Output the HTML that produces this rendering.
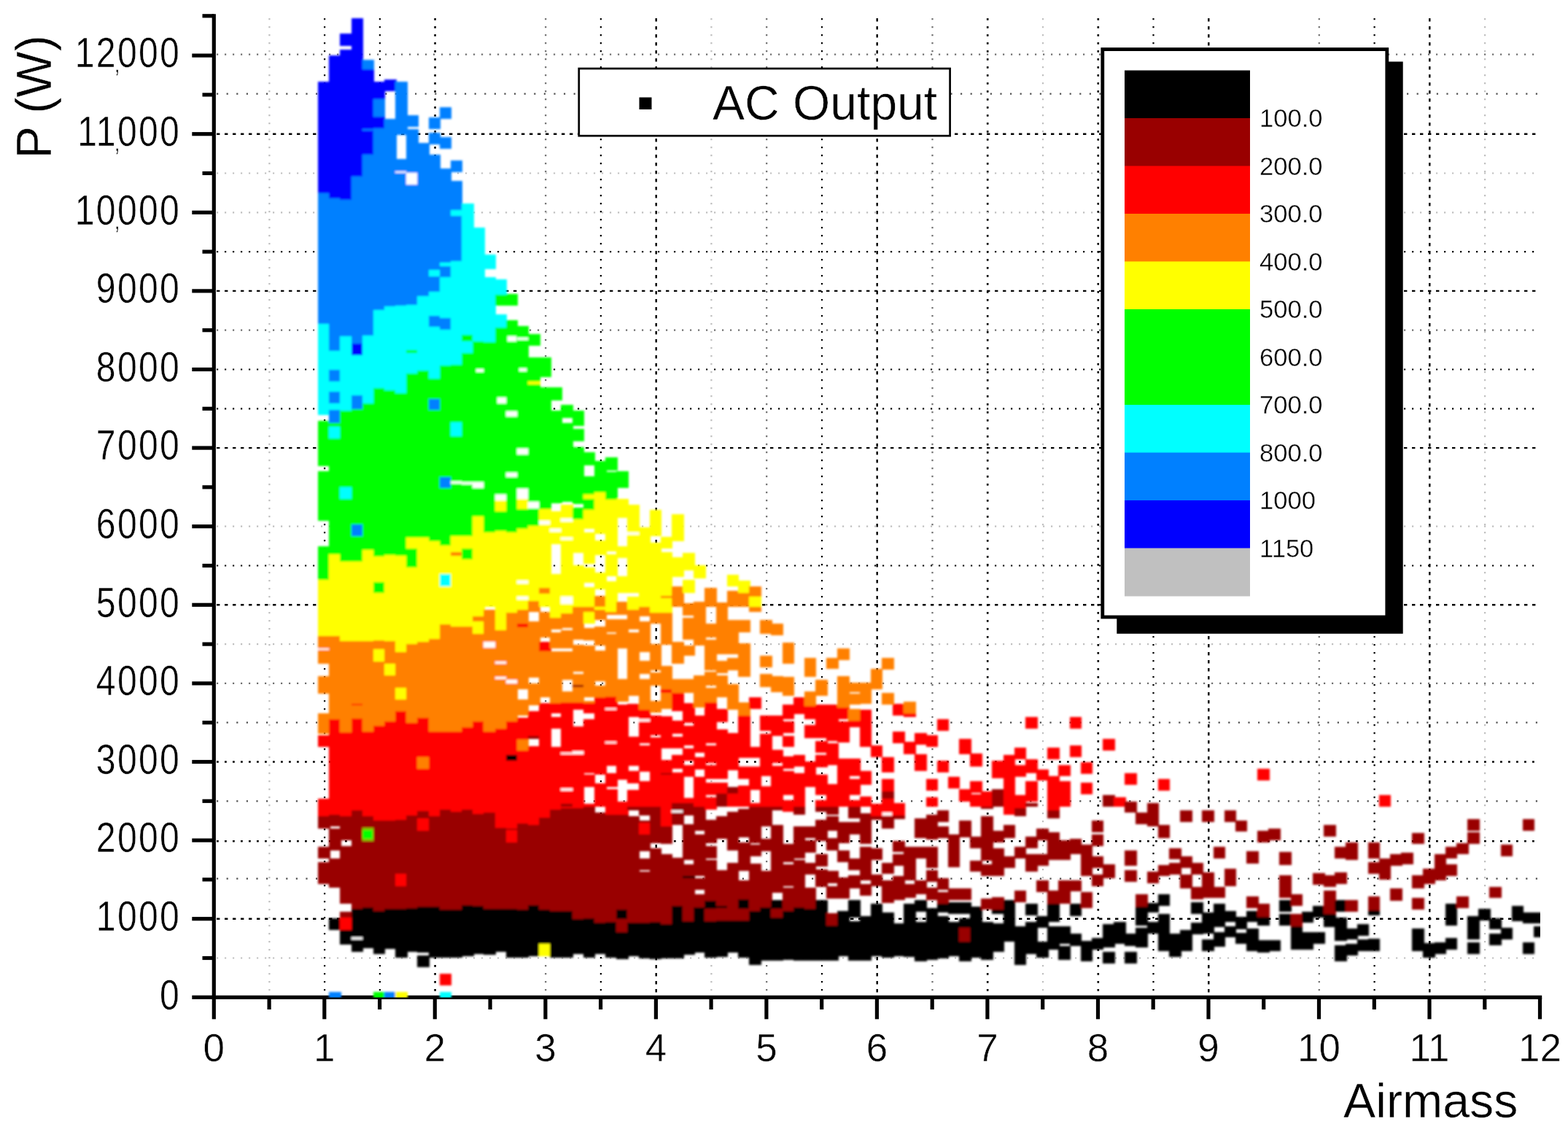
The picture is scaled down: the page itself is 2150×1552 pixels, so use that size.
<!DOCTYPE html>
<html lang="en"><head><meta charset="utf-8"><title>AC Output vs Airmass</title>
<style>html,body{margin:0;padding:0;background:#fff;}body{width:2150px;height:1552px;overflow:hidden;}svg{display:block;}text{font-family:"Liberation Sans", Arial, Helvetica, sans-serif;fill:#000;stroke:#fff;stroke-width:.5px;}#colourscale text{stroke-width:.4px;}</style></head><body>
<svg width="2150" height="1552" viewBox="0 0 2150 1552">
<rect width="2150" height="1552" fill="#fff"/>
<defs><clipPath id="clip"><rect x="293.3" y="0" width="1818.6" height="1367.4"/></clipPath><filter id="soft" filterUnits="userSpaceOnUse" x="280" y="0" width="1850" height="1400"><feGaussianBlur stdDeviation="1.5"/></filter></defs>
<g id="grid" fill="none">
<path d="M369.4 25V1365" stroke="#c0c0c0" stroke-dasharray="2.2 8.8" stroke-width="2.2"/>
<path d="M445.1 25V1365" stroke="#000" stroke-dasharray="2.2 8.8" stroke-width="2.2"/>
<path d="M520.9 25V1365" stroke="#000" stroke-dasharray="2.2 8.8" stroke-width="2.2"/>
<path d="M596.6 25V1365" stroke="#000" stroke-dasharray="2.8 8.2" stroke-width="2.6"/>
<path d="M748.2 25V1365" stroke="#707070" stroke-dasharray="2.2 8.8" stroke-width="2.2"/>
<path d="M823.9 25V1365" stroke="#000" stroke-dasharray="2.2 8.8" stroke-width="2.2"/>
<path d="M899.7 25V1365" stroke="#000" stroke-dasharray="4.4 6.6" stroke-width="2.4"/>
<path d="M975.4 25V1365" stroke="#c0c0c0" stroke-dasharray="2.2 8.8" stroke-width="2.2"/>
<path d="M1051.2 25V1365" stroke="#707070" stroke-dasharray="2.2 8.8" stroke-width="2.2"/>
<path d="M1127.0 25V1365" stroke="#000" stroke-dasharray="2.2 8.8" stroke-width="2.2"/>
<path d="M1202.7 25V1365" stroke="#000" stroke-dasharray="4.4 6.6" stroke-width="2.4"/>
<path d="M1278.5 25V1365" stroke="#707070" stroke-dasharray="2.2 8.8" stroke-width="2.2"/>
<path d="M1354.2 25V1365" stroke="#000" stroke-dasharray="2.8 8.2" stroke-width="2.6"/>
<path d="M1430.0 25V1365" stroke="#c0c0c0" stroke-dasharray="2.2 8.8" stroke-width="2.2"/>
<path d="M1505.8 25V1365" stroke="#000" stroke-dasharray="2.8 8.2" stroke-width="2.6"/>
<path d="M1581.5 25V1365" stroke="#000" stroke-dasharray="2.2 8.8" stroke-width="2.2"/>
<path d="M1657.3 25V1365" stroke="#000" stroke-dasharray="4.4 6.6" stroke-width="2.4"/>
<path d="M1808.8 25V1365" stroke="#707070" stroke-dasharray="2.2 8.8" stroke-width="2.2"/>
<path d="M1884.6 25V1365" stroke="#000" stroke-dasharray="2.2 8.8" stroke-width="2.2"/>
<path d="M1960.3 25V1365" stroke="#000" stroke-dasharray="4.4 6.6" stroke-width="2.4"/>
<path d="M2036.1 25V1365" stroke="#c0c0c0" stroke-dasharray="2.2 8.8" stroke-width="2.2"/>
<path d="M297 1313.5H2111" stroke="#c0c0c0" stroke-dasharray="2.2 8.8" stroke-width="2.2"/>
<path d="M297 1259.7H2111" stroke="#000" stroke-dasharray="4.4 6.6" stroke-width="2.4"/>
<path d="M297 1204.7H2111" stroke="#505050" stroke-dasharray="2.2 11.4" stroke-width="2.2"/>
<path d="M297 1153.3H2111" stroke="#000" stroke-dasharray="2.8 8.2" stroke-width="2.6"/>
<path d="M297 1098.3H2111" stroke="#505050" stroke-dasharray="2.2 11.4" stroke-width="2.2"/>
<path d="M297 1044.5H2111" stroke="#000" stroke-dasharray="2.8 8.2" stroke-width="2.6"/>
<path d="M297 990.7H2111" stroke="#505050" stroke-dasharray="2.2 11.4" stroke-width="2.2"/>
<path d="M297 936.9H2111" stroke="#707070" stroke-dasharray="2.2 8.8" stroke-width="2.2"/>
<path d="M297 883.1H2111" stroke="#c0c0c0" stroke-dasharray="2.2 8.8" stroke-width="2.2"/>
<path d="M297 829.3H2111" stroke="#000" stroke-dasharray="4.4 6.6" stroke-width="2.4"/>
<path d="M297 775.5H2111" stroke="#000" stroke-dasharray="2.2 8.8" stroke-width="2.2"/>
<path d="M297 721.7H2111" stroke="#c0c0c0" stroke-dasharray="2.2 8.8" stroke-width="2.2"/>
<path d="M297 614.1H2111" stroke="#000" stroke-dasharray="4.4 6.6" stroke-width="2.4"/>
<path d="M297 560.3H2111" stroke="#000" stroke-dasharray="2.2 8.8" stroke-width="2.2"/>
<path d="M297 506.5H2111" stroke="#000" stroke-dasharray="2.2 8.8" stroke-width="2.2"/>
<path d="M297 452.7H2111" stroke="#707070" stroke-dasharray="2.2 8.8" stroke-width="2.2"/>
<path d="M297 398.9H2111" stroke="#000" stroke-dasharray="4.4 6.6" stroke-width="2.4"/>
<path d="M297 345.1H2111" stroke="#000" stroke-dasharray="2.2 8.8" stroke-width="2.2"/>
<path d="M297 291.3H2111" stroke="#c0c0c0" stroke-dasharray="2.2 8.8" stroke-width="2.2"/>
<path d="M297 237.5H2111" stroke="#c0c0c0" stroke-dasharray="2.2 8.8" stroke-width="2.2"/>
<path d="M297 183.7H2111" stroke="#000" stroke-dasharray="4.4 6.6" stroke-width="2.4"/>
<path d="M297 128.7H2111" stroke="#505050" stroke-dasharray="2.2 11.4" stroke-width="2.2"/>
<path d="M297 74.7H2111" stroke="#707070" stroke-dasharray="2.2 8.8" stroke-width="2.2"/>
</g>
<g id="axes" stroke="#000" stroke-width="5.2" fill="none">
<path d="M293.3 19.2V1369.9"/>
<path d="M290.7 1367.3H2114.2"/>
<path d="M263.3 1367.3H293.3"/>
<path d="M277.5 1313.5H293.3"/>
<path d="M263.3 1259.7H293.3"/>
<path d="M277.5 1205.9H293.3"/>
<path d="M263.3 1152.1H293.3"/>
<path d="M277.5 1098.3H293.3"/>
<path d="M263.3 1044.5H293.3"/>
<path d="M277.5 990.7H293.3"/>
<path d="M263.3 936.9H293.3"/>
<path d="M277.5 883.1H293.3"/>
<path d="M263.3 829.3H293.3"/>
<path d="M277.5 775.5H293.3"/>
<path d="M263.3 721.7H293.3"/>
<path d="M277.5 667.9H293.3"/>
<path d="M263.3 614.1H293.3"/>
<path d="M277.5 560.3H293.3"/>
<path d="M263.3 506.5H293.3"/>
<path d="M277.5 452.7H293.3"/>
<path d="M263.3 398.9H293.3"/>
<path d="M277.5 345.1H293.3"/>
<path d="M263.3 291.3H293.3"/>
<path d="M277.5 237.5H293.3"/>
<path d="M263.3 183.7H293.3"/>
<path d="M277.5 129.9H293.3"/>
<path d="M263.3 76.1H293.3"/>
<path d="M277.5 21.8H293.3"/>
<path d="M293.3 1367.3V1397.3"/>
<path d="M369.1 1367.3V1384"/>
<path d="M444.8 1367.3V1397.3"/>
<path d="M520.6 1367.3V1384"/>
<path d="M596.3 1367.3V1397.3"/>
<path d="M672.1 1367.3V1384"/>
<path d="M747.9 1367.3V1397.3"/>
<path d="M823.6 1367.3V1384"/>
<path d="M899.4 1367.3V1397.3"/>
<path d="M975.1 1367.3V1384"/>
<path d="M1050.9 1367.3V1397.3"/>
<path d="M1126.7 1367.3V1384"/>
<path d="M1202.4 1367.3V1397.3"/>
<path d="M1278.2 1367.3V1384"/>
<path d="M1353.9 1367.3V1397.3"/>
<path d="M1429.7 1367.3V1384"/>
<path d="M1505.5 1367.3V1397.3"/>
<path d="M1581.2 1367.3V1384"/>
<path d="M1657.0 1367.3V1397.3"/>
<path d="M1732.7 1367.3V1384"/>
<path d="M1808.5 1367.3V1397.3"/>
<path d="M1884.3 1367.3V1384"/>
<path d="M1960.0 1367.3V1397.3"/>
<path d="M2035.8 1367.3V1384"/>
<path d="M2111.5 1367.3V1397.3"/>
</g>
<g id="scatter" clip-path="url(#clip)"><g filter="url(#soft)" shape-rendering="crispEdges">
<g fill="#0000ff">
<rect x="436.0" y="111.6" width="16.6" height="152.9"/>
</g>
<g fill="#0080ff">
<rect x="436.0" y="264.5" width="16.6" height="19.8"/>
</g>
<g fill="#0000ff">
<rect x="451.2" y="76.3" width="16.6" height="195.3"/>
</g>
<g fill="#0080ff">
<rect x="451.2" y="271.6" width="16.6" height="12.7"/>
</g>
<g fill="#0000ff">
<rect x="466.3" y="46.2" width="16.6" height="16.3"/>
<rect x="466.3" y="68.3" width="16.6" height="205.9"/>
</g>
<g fill="#0080ff">
<rect x="466.3" y="274.2" width="16.6" height="10.1"/>
</g>
<g fill="#0000ff">
<rect x="481.5" y="25.0" width="16.6" height="216.5"/>
</g>
<g fill="#0080ff">
<rect x="481.5" y="241.5" width="16.6" height="42.8"/>
<rect x="496.6" y="81.6" width="16.6" height="13.3"/>
</g>
<g fill="#0000ff">
<rect x="496.6" y="94.8" width="16.6" height="117.5"/>
</g>
<g fill="#0080ff">
<rect x="496.6" y="176.8" width="16.6" height="2.1"/>
<rect x="496.6" y="212.4" width="16.6" height="71.9"/>
</g>
<g fill="#0000ff">
<rect x="511.8" y="111.6" width="16.6" height="24.7"/>
</g>
<g fill="#0080ff">
<rect x="511.8" y="136.4" width="16.6" height="23.9"/>
</g>
<g fill="#0000ff">
<rect x="511.8" y="160.2" width="16.6" height="15.9"/>
</g>
<g fill="#0080ff">
<rect x="511.8" y="176.1" width="16.6" height="108.2"/>
</g>
<g fill="#0000ff">
<rect x="526.9" y="109.0" width="16.6" height="15.9"/>
</g>
<g fill="#0080ff">
<rect x="526.9" y="162.9" width="16.6" height="121.4"/>
<rect x="542.1" y="111.6" width="16.6" height="73.3"/>
<rect x="542.1" y="217.7" width="16.6" height="66.6"/>
</g>
<g fill="#ffffff">
<rect x="542.1" y="234.5" width="16.6" height="2.7"/>
</g>
<g fill="#0080ff">
<rect x="557.2" y="157.6" width="16.6" height="16.8"/>
<rect x="557.2" y="177.0" width="16.6" height="107.3"/>
</g>
<g fill="#ffffff">
<rect x="557.2" y="237.1" width="16.6" height="15.9"/>
</g>
<g fill="#0080ff">
<rect x="572.4" y="195.6" width="16.6" height="88.7"/>
<rect x="587.5" y="161.1" width="16.6" height="15.9"/>
<rect x="587.5" y="182.3" width="16.6" height="15.9"/>
<rect x="587.5" y="212.4" width="16.6" height="71.9"/>
<rect x="602.7" y="147.0" width="16.6" height="15.9"/>
<rect x="602.7" y="187.6" width="16.6" height="15.9"/>
<rect x="602.7" y="230.9" width="16.6" height="53.4"/>
<rect x="617.8" y="220.3" width="16.6" height="15.9"/>
<rect x="617.8" y="247.7" width="16.6" height="36.6"/>
</g>
<g fill="#00ffff">
<rect x="633.0" y="278.7" width="16.6" height="5.7"/>
</g>
<g fill="#0080ff">
<rect x="436.0" y="284.0" width="16.6" height="160.0"/>
</g>
<g fill="#00ffff">
<rect x="436.0" y="444.0" width="16.6" height="114.4"/>
</g>
<g fill="#0080ff">
<rect x="451.2" y="284.0" width="16.6" height="197.1"/>
</g>
<g fill="#00ffff">
<rect x="451.2" y="481.1" width="16.6" height="26.0"/>
</g>
<g fill="#0080ff">
<rect x="451.2" y="507.1" width="16.6" height="15.6"/>
</g>
<g fill="#00ffff">
<rect x="451.2" y="522.6" width="16.6" height="14.5"/>
</g>
<g fill="#0080ff">
<rect x="451.2" y="537.1" width="16.6" height="15.6"/>
</g>
<g fill="#00ffff">
<rect x="451.2" y="552.7" width="16.6" height="5.7"/>
</g>
<g fill="#0080ff">
<rect x="466.3" y="284.0" width="16.6" height="176.7"/>
</g>
<g fill="#00ffff">
<rect x="466.3" y="460.7" width="16.6" height="97.6"/>
</g>
<g fill="#0080ff">
<rect x="481.5" y="284.0" width="16.6" height="187.3"/>
</g>
<g fill="#0000ff">
<rect x="481.5" y="471.3" width="16.6" height="15.9"/>
</g>
<g fill="#00ffff">
<rect x="481.5" y="487.3" width="16.6" height="55.1"/>
</g>
<g fill="#0080ff">
<rect x="481.5" y="542.4" width="16.6" height="15.9"/>
<rect x="496.6" y="284.0" width="16.6" height="175.9"/>
</g>
<g fill="#00ffff">
<rect x="496.6" y="459.9" width="16.6" height="92.8"/>
</g>
<g fill="#00ff00">
<rect x="496.6" y="552.7" width="16.6" height="5.7"/>
</g>
<g fill="#0080ff">
<rect x="511.8" y="284.0" width="16.6" height="141.4"/>
</g>
<g fill="#00ffff">
<rect x="511.8" y="425.4" width="16.6" height="106.9"/>
</g>
<g fill="#00ff00">
<rect x="511.8" y="532.3" width="16.6" height="26.0"/>
</g>
<g fill="#0080ff">
<rect x="526.9" y="284.0" width="16.6" height="136.1"/>
</g>
<g fill="#00ffff">
<rect x="526.9" y="420.1" width="16.6" height="114.9"/>
</g>
<g fill="#00ff00">
<rect x="526.9" y="535.0" width="16.6" height="23.3"/>
</g>
<g fill="#0080ff">
<rect x="542.1" y="284.0" width="16.6" height="135.2"/>
</g>
<g fill="#00ffff">
<rect x="542.1" y="419.2" width="16.6" height="119.3"/>
</g>
<g fill="#00ff00">
<rect x="542.1" y="538.5" width="16.6" height="19.8"/>
</g>
<g fill="#0080ff">
<rect x="557.2" y="284.0" width="16.6" height="134.3"/>
</g>
<g fill="#00ffff">
<rect x="557.2" y="418.3" width="16.6" height="93.7"/>
</g>
<g fill="#00ff00">
<rect x="557.2" y="512.0" width="16.6" height="46.3"/>
<rect x="557.2" y="480.2" width="16.6" height="3.9"/>
</g>
<g fill="#0080ff">
<rect x="572.4" y="284.0" width="16.6" height="122.0"/>
</g>
<g fill="#00ffff">
<rect x="572.4" y="406.0" width="16.6" height="101.6"/>
</g>
<g fill="#00ff00">
<rect x="572.4" y="507.6" width="16.6" height="50.7"/>
</g>
<g fill="#0080ff">
<rect x="587.5" y="284.0" width="16.6" height="115.8"/>
</g>
<g fill="#00ffff">
<rect x="587.5" y="370.3" width="16.6" height="8.3"/>
<rect x="587.5" y="399.8" width="16.6" height="33.6"/>
</g>
<g fill="#0080ff">
<rect x="587.5" y="433.3" width="16.6" height="15.0"/>
</g>
<g fill="#00ffff">
<rect x="587.5" y="448.4" width="16.6" height="70.7"/>
</g>
<g fill="#00ff00">
<rect x="587.5" y="519.1" width="16.6" height="39.2"/>
</g>
<g fill="#0080ff">
<rect x="587.5" y="547.3" width="16.6" height="11.0"/>
<rect x="602.7" y="284.0" width="16.6" height="75.6"/>
</g>
<g fill="#00ffff">
<rect x="602.7" y="359.6" width="16.6" height="5.3"/>
</g>
<g fill="#0080ff">
<rect x="602.7" y="364.9" width="16.6" height="15.4"/>
</g>
<g fill="#00ffff">
<rect x="602.7" y="380.3" width="16.6" height="55.7"/>
</g>
<g fill="#0080ff">
<rect x="602.7" y="436.0" width="16.6" height="15.9"/>
</g>
<g fill="#00ffff">
<rect x="602.7" y="451.9" width="16.6" height="48.6"/>
</g>
<g fill="#00ff00">
<rect x="602.7" y="500.5" width="16.6" height="57.8"/>
</g>
<g fill="#0080ff">
<rect x="617.8" y="284.0" width="16.6" height="4.4"/>
</g>
<g fill="#00ffff">
<rect x="617.8" y="288.4" width="16.6" height="8.0"/>
</g>
<g fill="#0080ff">
<rect x="617.8" y="296.4" width="16.6" height="61.9"/>
</g>
<g fill="#00ffff">
<rect x="617.8" y="358.2" width="16.6" height="141.4"/>
</g>
<g fill="#00ff00">
<rect x="617.8" y="499.6" width="16.6" height="58.7"/>
</g>
<g fill="#00ffff">
<rect x="633.0" y="284.0" width="16.6" height="175.0"/>
</g>
<g fill="#00ff00">
<rect x="633.0" y="459.0" width="16.6" height="8.8"/>
</g>
<g fill="#00ffff">
<rect x="633.0" y="467.8" width="16.6" height="15.9"/>
</g>
<g fill="#00ff00">
<rect x="633.0" y="483.7" width="16.6" height="74.6"/>
</g>
<g fill="#00ffff">
<rect x="648.2" y="312.3" width="16.6" height="155.5"/>
</g>
<g fill="#00ff00">
<rect x="648.2" y="467.8" width="16.6" height="90.5"/>
</g>
<g fill="#ffffff">
<rect x="652.5" y="506.3" width="10.6" height="3.5"/>
</g>
<g fill="#00ffff">
<rect x="663.3" y="348.5" width="16.6" height="20.3"/>
<rect x="663.3" y="380.3" width="16.6" height="88.4"/>
</g>
<g fill="#00ff00">
<rect x="663.3" y="468.7" width="16.6" height="89.6"/>
</g>
<g fill="#00ffff">
<rect x="678.5" y="383.0" width="16.6" height="21.2"/>
</g>
<g fill="#00ff00">
<rect x="678.5" y="404.2" width="16.6" height="15.0"/>
</g>
<g fill="#00ffff">
<rect x="678.5" y="430.7" width="16.6" height="18.6"/>
</g>
<g fill="#00ff00">
<rect x="678.5" y="449.3" width="16.6" height="109.1"/>
</g>
<g fill="#ffffff">
<rect x="682.0" y="545.2" width="11.7" height="7.8"/>
</g>
<g fill="#00ff00">
<rect x="693.6" y="403.3" width="16.6" height="15.9"/>
<rect x="693.6" y="438.7" width="16.6" height="119.7"/>
</g>
<g fill="#ffffff">
<rect x="695.5" y="461.1" width="12.7" height="6.7"/>
</g>
<g fill="#00ff00">
<rect x="708.8" y="446.6" width="16.6" height="111.7"/>
</g>
<g fill="#ffffff">
<rect x="708.8" y="462.9" width="16.6" height="2.8"/>
<rect x="711.7" y="504.9" width="10.6" height="4.4"/>
</g>
<g fill="#00ff00">
<rect x="723.9" y="458.1" width="16.6" height="15.9"/>
<rect x="723.9" y="489.9" width="16.6" height="68.4"/>
</g>
<g fill="#ffff00">
<rect x="723.9" y="523.0" width="16.6" height="3.5"/>
</g>
<g fill="#00ff00">
<rect x="739.1" y="489.9" width="16.6" height="27.4"/>
<rect x="739.1" y="531.4" width="16.6" height="26.9"/>
<rect x="754.2" y="531.4" width="16.6" height="17.7"/>
<rect x="769.4" y="555.3" width="16.6" height="3.0"/>
</g>
<g fill="#00ffff">
<rect x="436.0" y="558.0" width="16.6" height="10.6"/>
</g>
<g fill="#00ff00">
<rect x="436.0" y="576.6" width="16.6" height="62.7"/>
<rect x="436.0" y="645.5" width="16.6" height="68.0"/>
<rect x="436.0" y="748.9" width="16.6" height="46.0"/>
</g>
<g fill="#ffff00">
<rect x="436.0" y="794.8" width="16.6" height="37.5"/>
</g>
<g fill="#00ffff">
<rect x="451.2" y="558.0" width="16.6" height="3.5"/>
</g>
<g fill="#0080ff">
<rect x="451.2" y="561.5" width="16.6" height="18.6"/>
</g>
<g fill="#00ff00">
<rect x="451.2" y="580.1" width="16.6" height="4.4"/>
</g>
<g fill="#00ffff">
<rect x="451.2" y="584.5" width="16.6" height="16.8"/>
</g>
<g fill="#00ff00">
<rect x="451.2" y="601.3" width="16.6" height="158.2"/>
</g>
<g fill="#ffff00">
<rect x="451.2" y="759.5" width="16.6" height="72.8"/>
</g>
<g fill="#00ffff">
<rect x="466.3" y="558.0" width="16.6" height="5.3"/>
</g>
<g fill="#00ff00">
<rect x="466.3" y="563.3" width="16.6" height="104.3"/>
</g>
<g fill="#00ffff">
<rect x="466.3" y="667.6" width="16.6" height="16.8"/>
</g>
<g fill="#00ff00">
<rect x="466.3" y="684.4" width="16.6" height="85.7"/>
</g>
<g fill="#ffff00">
<rect x="466.3" y="770.1" width="16.6" height="62.2"/>
</g>
<g fill="#0080ff">
<rect x="481.5" y="558.0" width="16.6" height="2.7"/>
</g>
<g fill="#00ff00">
<rect x="481.5" y="560.7" width="16.6" height="158.2"/>
</g>
<g fill="#0080ff">
<rect x="481.5" y="718.8" width="16.6" height="15.9"/>
</g>
<g fill="#00ff00">
<rect x="481.5" y="734.7" width="16.6" height="35.3"/>
</g>
<g fill="#ffff00">
<rect x="481.5" y="770.1" width="16.6" height="62.2"/>
</g>
<g fill="#00ff00">
<rect x="496.6" y="558.0" width="16.6" height="196.2"/>
</g>
<g fill="#ffff00">
<rect x="496.6" y="754.2" width="16.6" height="78.1"/>
</g>
<g fill="#00ff00">
<rect x="511.8" y="558.0" width="16.6" height="205.0"/>
</g>
<g fill="#ffff00">
<rect x="511.8" y="763.0" width="16.6" height="35.3"/>
</g>
<g fill="#00ff00">
<rect x="511.8" y="798.4" width="16.6" height="15.0"/>
</g>
<g fill="#ffff00">
<rect x="511.8" y="813.4" width="16.6" height="18.9"/>
</g>
<g fill="#00ff00">
<rect x="526.9" y="558.0" width="16.6" height="203.3"/>
</g>
<g fill="#ffff00">
<rect x="526.9" y="761.3" width="16.6" height="71.1"/>
</g>
<g fill="#00ff00">
<rect x="542.1" y="558.0" width="16.6" height="204.1"/>
</g>
<g fill="#ffff00">
<rect x="542.1" y="762.1" width="16.6" height="70.2"/>
</g>
<g fill="#00ff00">
<rect x="557.2" y="558.0" width="16.6" height="178.5"/>
</g>
<g fill="#ffff00">
<rect x="557.2" y="736.5" width="16.6" height="15.0"/>
</g>
<g fill="#00ff00">
<rect x="557.2" y="751.5" width="16.6" height="26.5"/>
</g>
<g fill="#ffff00">
<rect x="557.2" y="778.0" width="16.6" height="54.3"/>
</g>
<g fill="#00ff00">
<rect x="572.4" y="558.0" width="16.6" height="178.5"/>
</g>
<g fill="#ffff00">
<rect x="572.4" y="736.5" width="16.6" height="95.8"/>
</g>
<g fill="#0080ff">
<rect x="587.5" y="558.0" width="16.6" height="4.4"/>
</g>
<g fill="#00ff00">
<rect x="587.5" y="562.4" width="16.6" height="179.4"/>
</g>
<g fill="#ffff00">
<rect x="587.5" y="741.8" width="16.6" height="90.5"/>
</g>
<g fill="#00ff00">
<rect x="602.7" y="558.0" width="16.6" height="96.3"/>
</g>
<g fill="#0080ff">
<rect x="602.7" y="654.3" width="16.6" height="15.0"/>
</g>
<g fill="#00ff00">
<rect x="602.7" y="669.3" width="16.6" height="78.7"/>
</g>
<g fill="#ffff00">
<rect x="602.7" y="748.0" width="16.6" height="38.9"/>
</g>
<g fill="#00ffff">
<rect x="602.7" y="786.9" width="16.6" height="16.8"/>
</g>
<g fill="#ffff00">
<rect x="602.7" y="803.7" width="16.6" height="28.6"/>
</g>
<g fill="#00ff00">
<rect x="617.8" y="558.0" width="16.6" height="21.2"/>
</g>
<g fill="#00ffff">
<rect x="617.8" y="579.2" width="16.6" height="18.6"/>
</g>
<g fill="#00ff00">
<rect x="617.8" y="597.8" width="16.6" height="137.0"/>
</g>
<g fill="#ffff00">
<rect x="617.8" y="734.7" width="16.6" height="97.6"/>
</g>
<g fill="#ff8000">
<rect x="617.8" y="757.4" width="16.6" height="4.8"/>
</g>
<g fill="#ffffff">
<rect x="617.8" y="660.2" width="16.6" height="3.2"/>
</g>
<g fill="#00ff00">
<rect x="633.0" y="558.0" width="16.6" height="176.7"/>
</g>
<g fill="#ffff00">
<rect x="633.0" y="734.7" width="16.6" height="17.7"/>
</g>
<g fill="#00ff00">
<rect x="633.0" y="752.4" width="16.6" height="15.0"/>
</g>
<g fill="#ffff00">
<rect x="633.0" y="767.4" width="16.6" height="64.9"/>
</g>
<g fill="#ffffff">
<rect x="633.0" y="661.0" width="16.6" height="3.0"/>
</g>
<g fill="#00ff00">
<rect x="648.2" y="558.0" width="16.6" height="150.2"/>
</g>
<g fill="#ffff00">
<rect x="648.2" y="708.2" width="16.6" height="124.1"/>
</g>
<g fill="#ffffff">
<rect x="648.2" y="660.5" width="16.6" height="8.5"/>
</g>
<g fill="#00ff00">
<rect x="663.3" y="558.0" width="16.6" height="172.3"/>
</g>
<g fill="#ffff00">
<rect x="663.3" y="730.3" width="16.6" height="102.0"/>
</g>
<g fill="#00ff00">
<rect x="678.5" y="558.0" width="16.6" height="120.2"/>
</g>
<g fill="#ffffff">
<rect x="678.5" y="678.2" width="16.6" height="8.0"/>
</g>
<g fill="#ffff00">
<rect x="678.5" y="686.1" width="16.6" height="15.0"/>
</g>
<g fill="#00ff00">
<rect x="678.5" y="701.2" width="16.6" height="26.5"/>
</g>
<g fill="#ffff00">
<rect x="678.5" y="727.7" width="16.6" height="104.6"/>
</g>
<g fill="#00ff00">
<rect x="693.6" y="558.0" width="16.6" height="172.3"/>
</g>
<g fill="#ffff00">
<rect x="693.6" y="730.3" width="16.6" height="102.0"/>
</g>
<g fill="#ffffff">
<rect x="693.6" y="564.2" width="16.6" height="7.1"/>
<rect x="693.6" y="648.1" width="16.6" height="6.2"/>
</g>
<g fill="#00ff00">
<rect x="708.8" y="558.0" width="16.6" height="112.2"/>
</g>
<g fill="#ffffff">
<rect x="708.8" y="670.2" width="16.6" height="13.3"/>
</g>
<g fill="#ffff00">
<rect x="708.8" y="683.5" width="16.6" height="14.1"/>
</g>
<g fill="#00ff00">
<rect x="708.8" y="697.6" width="16.6" height="27.4"/>
</g>
<g fill="#ffff00">
<rect x="708.8" y="725.0" width="16.6" height="107.3"/>
</g>
<g fill="#ffffff">
<rect x="708.8" y="615.4" width="16.6" height="8.0"/>
<rect x="708.8" y="795.7" width="16.6" height="4.4"/>
<rect x="708.8" y="817.8" width="16.6" height="4.4"/>
</g>
<g fill="#00ff00">
<rect x="723.9" y="558.0" width="16.6" height="129.9"/>
</g>
<g fill="#ffffff">
<rect x="723.9" y="687.9" width="16.6" height="8.8"/>
</g>
<g fill="#00ff00">
<rect x="723.9" y="696.7" width="16.6" height="23.9"/>
</g>
<g fill="#ffff00">
<rect x="723.9" y="720.6" width="16.6" height="111.7"/>
</g>
<g fill="#ff8000">
<rect x="723.9" y="824.0" width="16.6" height="8.3"/>
</g>
<g fill="#00ff00">
<rect x="739.1" y="558.0" width="16.6" height="139.6"/>
</g>
<g fill="#ffff00">
<rect x="739.1" y="697.6" width="16.6" height="134.7"/>
</g>
<g fill="#ffffff">
<rect x="739.1" y="713.5" width="16.6" height="5.3"/>
</g>
<g fill="#ff8000">
<rect x="739.1" y="806.3" width="16.6" height="8.0"/>
</g>
<g fill="#00ff00">
<rect x="754.2" y="563.3" width="16.6" height="126.4"/>
</g>
<g fill="#ffff00">
<rect x="754.2" y="701.2" width="16.6" height="45.1"/>
<rect x="754.2" y="786.9" width="16.6" height="45.4"/>
</g>
<g fill="#ffffff">
<rect x="754.2" y="725.0" width="16.6" height="4.4"/>
</g>
<g fill="#00ff00">
<rect x="769.4" y="558.0" width="16.6" height="15.0"/>
<rect x="769.4" y="580.1" width="16.6" height="107.8"/>
</g>
<g fill="#ffff00">
<rect x="769.4" y="692.3" width="16.6" height="140.0"/>
</g>
<g fill="#ffffff">
<rect x="769.4" y="710.9" width="16.6" height="4.4"/>
<rect x="769.4" y="736.5" width="16.6" height="3.5"/>
<rect x="769.4" y="817.8" width="16.6" height="10.6"/>
</g>
<g fill="#00ff00">
<rect x="784.5" y="563.3" width="16.6" height="20.3"/>
<rect x="784.5" y="588.0" width="16.6" height="16.8"/>
<rect x="784.5" y="612.8" width="16.6" height="77.8"/>
<rect x="784.5" y="695.9" width="16.6" height="15.9"/>
</g>
<g fill="#ffff00">
<rect x="784.5" y="711.8" width="16.6" height="46.0"/>
<rect x="784.5" y="775.4" width="16.6" height="56.9"/>
</g>
<g fill="#00ff00">
<rect x="799.7" y="619.9" width="16.6" height="17.7"/>
<rect x="799.7" y="653.4" width="16.6" height="24.7"/>
</g>
<g fill="#ffff00">
<rect x="799.7" y="678.2" width="16.6" height="5.3"/>
</g>
<g fill="#00ff00">
<rect x="799.7" y="683.5" width="16.6" height="15.9"/>
</g>
<g fill="#ffff00">
<rect x="799.7" y="699.4" width="16.6" height="25.6"/>
<rect x="799.7" y="730.3" width="16.6" height="42.4"/>
<rect x="799.7" y="778.0" width="16.6" height="21.2"/>
<rect x="799.7" y="805.4" width="16.6" height="26.9"/>
<rect x="436.0" y="832.0" width="16.6" height="39.8"/>
</g>
<g fill="#ff8000">
<rect x="436.0" y="871.8" width="16.6" height="38.0"/>
</g>
<g fill="#ffffff">
<rect x="436.0" y="888.6" width="16.6" height="2.7"/>
</g>
<g fill="#ff8000">
<rect x="436.0" y="926.6" width="16.6" height="23.9"/>
<rect x="436.0" y="977.8" width="16.6" height="28.3"/>
</g>
<g fill="#ff0000">
<rect x="436.0" y="1007.9" width="16.6" height="15.9"/>
<rect x="436.0" y="1095.3" width="16.6" height="11.0"/>
</g>
<g fill="#ffff00">
<rect x="451.2" y="832.0" width="16.6" height="39.8"/>
</g>
<g fill="#ff8000">
<rect x="451.2" y="871.8" width="16.6" height="114.0"/>
</g>
<g fill="#ff0000">
<rect x="451.2" y="985.8" width="16.6" height="120.5"/>
</g>
<g fill="#ffff00">
<rect x="466.3" y="832.0" width="16.6" height="46.8"/>
</g>
<g fill="#ff8000">
<rect x="466.3" y="878.8" width="16.6" height="125.5"/>
</g>
<g fill="#ff0000">
<rect x="466.3" y="1004.3" width="16.6" height="102.0"/>
</g>
<g fill="#ffff00">
<rect x="481.5" y="832.0" width="16.6" height="46.8"/>
</g>
<g fill="#ff8000">
<rect x="481.5" y="878.8" width="16.6" height="106.0"/>
</g>
<g fill="#ff0000">
<rect x="481.5" y="964.6" width="16.6" height="2.7"/>
<rect x="481.5" y="984.9" width="16.6" height="121.4"/>
</g>
<g fill="#ffff00">
<rect x="496.6" y="832.0" width="16.6" height="46.8"/>
</g>
<g fill="#ff8000">
<rect x="496.6" y="878.8" width="16.6" height="123.7"/>
</g>
<g fill="#ff0000">
<rect x="496.6" y="1002.6" width="16.6" height="103.7"/>
</g>
<g fill="#ffff00">
<rect x="511.8" y="832.0" width="16.6" height="46.0"/>
</g>
<g fill="#ff8000">
<rect x="511.8" y="878.0" width="16.6" height="12.4"/>
</g>
<g fill="#ffff00">
<rect x="511.8" y="890.3" width="16.6" height="16.8"/>
</g>
<g fill="#ff8000">
<rect x="511.8" y="907.1" width="16.6" height="87.5"/>
</g>
<g fill="#ff0000">
<rect x="511.8" y="994.6" width="16.6" height="111.7"/>
</g>
<g fill="#ffff00">
<rect x="526.9" y="832.0" width="16.6" height="46.8"/>
</g>
<g fill="#ff8000">
<rect x="526.9" y="878.8" width="16.6" height="30.9"/>
</g>
<g fill="#ffff00">
<rect x="526.9" y="909.8" width="16.6" height="15.9"/>
</g>
<g fill="#ff8000">
<rect x="526.9" y="925.7" width="16.6" height="63.6"/>
</g>
<g fill="#ff0000">
<rect x="526.9" y="989.3" width="16.6" height="117.0"/>
</g>
<g fill="#ffff00">
<rect x="542.1" y="832.0" width="16.6" height="61.9"/>
</g>
<g fill="#ff8000">
<rect x="542.1" y="893.9" width="16.6" height="48.6"/>
</g>
<g fill="#ffff00">
<rect x="542.1" y="942.5" width="16.6" height="16.8"/>
</g>
<g fill="#ff8000">
<rect x="542.1" y="959.3" width="16.6" height="15.9"/>
</g>
<g fill="#ff0000">
<rect x="542.1" y="975.2" width="16.6" height="131.1"/>
</g>
<g fill="#ffff00">
<rect x="557.2" y="832.0" width="16.6" height="51.3"/>
</g>
<g fill="#ff8000">
<rect x="557.2" y="883.3" width="16.6" height="107.8"/>
</g>
<g fill="#ff0000">
<rect x="557.2" y="991.1" width="16.6" height="115.2"/>
</g>
<g fill="#ffff00">
<rect x="572.4" y="832.0" width="16.6" height="47.7"/>
</g>
<g fill="#ff8000">
<rect x="572.4" y="879.7" width="16.6" height="104.3"/>
</g>
<g fill="#ff0000">
<rect x="572.4" y="984.0" width="16.6" height="53.9"/>
</g>
<g fill="#ff8000">
<rect x="572.4" y="1037.9" width="16.6" height="15.9"/>
</g>
<g fill="#ff0000">
<rect x="572.4" y="1053.8" width="16.6" height="52.5"/>
</g>
<g fill="#ffff00">
<rect x="587.5" y="832.0" width="16.6" height="44.2"/>
</g>
<g fill="#ff8000">
<rect x="587.5" y="876.2" width="16.6" height="126.4"/>
</g>
<g fill="#ff0000">
<rect x="587.5" y="1002.6" width="16.6" height="103.7"/>
</g>
<g fill="#ffff00">
<rect x="602.7" y="832.0" width="16.6" height="23.9"/>
</g>
<g fill="#ff8000">
<rect x="602.7" y="855.9" width="16.6" height="146.7"/>
</g>
<g fill="#ff0000">
<rect x="602.7" y="1002.6" width="16.6" height="103.7"/>
</g>
<g fill="#ffff00">
<rect x="617.8" y="832.0" width="16.6" height="26.5"/>
</g>
<g fill="#ff8000">
<rect x="617.8" y="858.5" width="16.6" height="144.0"/>
</g>
<g fill="#ff0000">
<rect x="617.8" y="1002.6" width="16.6" height="103.7"/>
</g>
<g fill="#ffff00">
<rect x="633.0" y="832.0" width="16.6" height="26.5"/>
</g>
<g fill="#ff8000">
<rect x="633.0" y="858.5" width="16.6" height="138.7"/>
</g>
<g fill="#ff0000">
<rect x="633.0" y="997.3" width="16.6" height="109.1"/>
</g>
<g fill="#ffff00">
<rect x="648.2" y="832.0" width="16.6" height="13.3"/>
</g>
<g fill="#ff8000">
<rect x="648.2" y="845.3" width="16.6" height="7.1"/>
</g>
<g fill="#ffff00">
<rect x="648.2" y="852.3" width="16.6" height="16.8"/>
</g>
<g fill="#ff8000">
<rect x="648.2" y="869.1" width="16.6" height="120.2"/>
</g>
<g fill="#ff0000">
<rect x="648.2" y="989.3" width="16.6" height="117.0"/>
</g>
<g fill="#ff8000">
<rect x="663.3" y="836.4" width="16.6" height="166.1"/>
</g>
<g fill="#ffffff">
<rect x="663.3" y="879.7" width="16.6" height="8.0"/>
</g>
<g fill="#ff0000">
<rect x="663.3" y="1002.6" width="16.6" height="103.7"/>
</g>
<g fill="#ffff00">
<rect x="678.5" y="832.0" width="16.6" height="31.8"/>
</g>
<g fill="#ff8000">
<rect x="678.5" y="863.8" width="16.6" height="135.2"/>
</g>
<g fill="#ff0000">
<rect x="678.5" y="999.0" width="16.6" height="107.3"/>
</g>
<g fill="#ffffff">
<rect x="678.5" y="907.1" width="16.6" height="2.7"/>
<rect x="678.5" y="928.3" width="16.6" height="2.7"/>
</g>
<g fill="#ffff00">
<rect x="693.6" y="832.0" width="16.6" height="8.0"/>
</g>
<g fill="#ff8000">
<rect x="693.6" y="840.0" width="16.6" height="149.3"/>
</g>
<g fill="#ff0000">
<rect x="693.6" y="989.3" width="16.6" height="117.0"/>
</g>
<g fill="#ffffff">
<rect x="693.6" y="931.9" width="16.6" height="5.3"/>
</g>
<g fill="#000000">
<rect x="693.6" y="1035.3" width="16.6" height="8.0"/>
</g>
<g fill="#ffff00">
<rect x="708.8" y="832.0" width="16.6" height="3.5"/>
</g>
<g fill="#ff8000">
<rect x="708.8" y="835.5" width="16.6" height="19.4"/>
</g>
<g fill="#ff0000">
<rect x="708.8" y="855.0" width="16.6" height="5.3"/>
</g>
<g fill="#ff8000">
<rect x="708.8" y="860.3" width="16.6" height="84.8"/>
<rect x="708.8" y="959.3" width="16.6" height="21.2"/>
</g>
<g fill="#ff0000">
<rect x="708.8" y="984.0" width="16.6" height="30.0"/>
</g>
<g fill="#ff8000">
<rect x="708.8" y="1014.0" width="16.6" height="15.0"/>
</g>
<g fill="#ff0000">
<rect x="708.8" y="1029.1" width="16.6" height="77.2"/>
</g>
<g fill="#ff8000">
<rect x="723.9" y="832.0" width="16.6" height="7.1"/>
<rect x="723.9" y="852.3" width="16.6" height="76.9"/>
<rect x="723.9" y="937.2" width="16.6" height="30.0"/>
</g>
<g fill="#ff0000">
<rect x="723.9" y="975.2" width="16.6" height="33.6"/>
</g>
<g fill="#990000">
<rect x="723.9" y="1008.7" width="16.6" height="4.4"/>
</g>
<g fill="#ff0000">
<rect x="723.9" y="1022.9" width="16.6" height="83.4"/>
</g>
<g fill="#ff8000">
<rect x="739.1" y="839.1" width="16.6" height="35.3"/>
</g>
<g fill="#ff0000">
<rect x="739.1" y="879.7" width="16.6" height="13.3"/>
</g>
<g fill="#ff8000">
<rect x="739.1" y="893.0" width="16.6" height="62.7"/>
</g>
<g fill="#ff0000">
<rect x="739.1" y="963.7" width="16.6" height="142.6"/>
</g>
<g fill="#ffff00">
<rect x="754.2" y="832.0" width="16.6" height="15.0"/>
</g>
<g fill="#ff8000">
<rect x="754.2" y="847.0" width="16.6" height="15.9"/>
<rect x="754.2" y="867.3" width="16.6" height="21.2"/>
<rect x="754.2" y="893.0" width="16.6" height="70.7"/>
</g>
<g fill="#ff0000">
<rect x="754.2" y="963.7" width="16.6" height="14.1"/>
<rect x="754.2" y="983.1" width="16.6" height="15.9"/>
<rect x="754.2" y="1023.8" width="16.6" height="82.5"/>
</g>
<g fill="#ffff00">
<rect x="769.4" y="832.0" width="16.6" height="8.8"/>
</g>
<g fill="#ff8000">
<rect x="769.4" y="840.8" width="16.6" height="20.3"/>
<rect x="769.4" y="863.8" width="16.6" height="24.7"/>
<rect x="769.4" y="893.0" width="16.6" height="38.9"/>
<rect x="769.4" y="947.8" width="16.6" height="15.0"/>
</g>
<g fill="#ff0000">
<rect x="769.4" y="962.8" width="16.6" height="143.5"/>
</g>
<g fill="#ffffff">
<rect x="769.4" y="1031.7" width="16.6" height="2.7"/>
<rect x="769.4" y="1081.2" width="16.6" height="2.7"/>
</g>
<g fill="#990000">
<rect x="769.4" y="1101.5" width="16.6" height="4.8"/>
</g>
<g fill="#ff8000">
<rect x="784.5" y="832.0" width="16.6" height="45.1"/>
<rect x="784.5" y="884.1" width="16.6" height="37.1"/>
<rect x="784.5" y="923.9" width="16.6" height="15.0"/>
</g>
<g fill="#990000">
<rect x="784.5" y="938.9" width="16.6" height="2.7"/>
</g>
<g fill="#ff8000">
<rect x="784.5" y="941.6" width="16.6" height="21.2"/>
</g>
<g fill="#ff0000">
<rect x="784.5" y="962.8" width="16.6" height="9.7"/>
<rect x="784.5" y="996.4" width="16.6" height="109.9"/>
</g>
<g fill="#ffffff">
<rect x="784.5" y="1030.0" width="16.6" height="3.5"/>
</g>
<g fill="#ff8000">
<rect x="799.7" y="832.0" width="16.6" height="7.1"/>
</g>
<g fill="#ffff00">
<rect x="799.7" y="839.1" width="16.6" height="15.9"/>
</g>
<g fill="#ff8000">
<rect x="799.7" y="861.2" width="16.6" height="16.8"/>
<rect x="799.7" y="885.0" width="16.6" height="70.7"/>
<rect x="799.7" y="961.0" width="16.6" height="2.7"/>
</g>
<g fill="#ff0000">
<rect x="799.7" y="963.7" width="16.6" height="14.1"/>
<rect x="799.7" y="985.8" width="16.6" height="74.2"/>
<rect x="799.7" y="1061.8" width="16.6" height="16.8"/>
<rect x="799.7" y="1102.4" width="16.6" height="3.9"/>
<rect x="436.0" y="1106.0" width="16.6" height="13.3"/>
</g>
<g fill="#990000">
<rect x="436.0" y="1119.3" width="16.6" height="16.8"/>
<rect x="436.0" y="1160.8" width="16.6" height="15.9"/>
<rect x="436.0" y="1182.0" width="16.6" height="30.0"/>
</g>
<g fill="#ff0000">
<rect x="451.2" y="1106.0" width="16.6" height="10.6"/>
</g>
<g fill="#990000">
<rect x="451.2" y="1116.6" width="16.6" height="16.8"/>
<rect x="451.2" y="1136.0" width="16.6" height="30.0"/>
<rect x="451.2" y="1176.7" width="16.6" height="39.8"/>
</g>
<g fill="#000000">
<rect x="451.2" y="1258.9" width="16.6" height="15.9"/>
</g>
<g fill="#0080ff">
<rect x="451.2" y="1359.6" width="16.6" height="11.5"/>
</g>
<g fill="#ff0000">
<rect x="466.3" y="1106.0" width="16.6" height="13.3"/>
</g>
<g fill="#990000">
<rect x="466.3" y="1119.3" width="16.6" height="32.7"/>
<rect x="466.3" y="1159.9" width="16.6" height="79.5"/>
<rect x="466.3" y="1249.5" width="16.6" height="8.5"/>
</g>
<g fill="#ff0000">
<rect x="466.3" y="1258.0" width="16.6" height="16.8"/>
</g>
<g fill="#000000">
<rect x="466.3" y="1274.8" width="16.6" height="20.3"/>
</g>
<g fill="#ff0000">
<rect x="481.5" y="1106.0" width="16.6" height="5.3"/>
</g>
<g fill="#990000">
<rect x="481.5" y="1111.3" width="16.6" height="134.3"/>
</g>
<g fill="#000000">
<rect x="481.5" y="1245.6" width="16.6" height="59.2"/>
</g>
<g fill="#ffffff">
<rect x="481.5" y="1285.4" width="16.6" height="2.7"/>
</g>
<g fill="#ff0000">
<rect x="496.6" y="1106.0" width="16.6" height="13.3"/>
</g>
<g fill="#990000">
<rect x="496.6" y="1119.3" width="16.6" height="124.6"/>
</g>
<g fill="#80c000">
<rect x="496.6" y="1135.2" width="16.6" height="17.7"/>
</g>
<g fill="#00ff00">
<rect x="497.0" y="1137.8" width="14.1" height="12.4"/>
</g>
<g fill="#000000">
<rect x="496.6" y="1243.9" width="16.6" height="55.7"/>
</g>
<g fill="#ff0000">
<rect x="511.8" y="1106.0" width="16.6" height="19.4"/>
</g>
<g fill="#990000">
<rect x="511.8" y="1125.4" width="16.6" height="123.7"/>
</g>
<g fill="#000000">
<rect x="511.8" y="1249.2" width="16.6" height="58.3"/>
</g>
<g fill="#00ff00">
<rect x="511.8" y="1359.6" width="16.6" height="11.5"/>
</g>
<g fill="#ff0000">
<rect x="526.9" y="1106.0" width="16.6" height="19.4"/>
</g>
<g fill="#990000">
<rect x="526.9" y="1125.4" width="16.6" height="120.2"/>
</g>
<g fill="#000000">
<rect x="526.9" y="1245.6" width="16.6" height="55.7"/>
</g>
<g fill="#0080ff">
<rect x="526.9" y="1359.6" width="16.6" height="11.5"/>
</g>
<g fill="#ff0000">
<rect x="542.1" y="1106.0" width="16.6" height="17.7"/>
</g>
<g fill="#990000">
<rect x="542.1" y="1123.7" width="16.6" height="74.2"/>
</g>
<g fill="#ff0000">
<rect x="542.1" y="1197.9" width="16.6" height="16.8"/>
</g>
<g fill="#990000">
<rect x="542.1" y="1214.7" width="16.6" height="30.9"/>
</g>
<g fill="#000000">
<rect x="542.1" y="1245.6" width="16.6" height="67.2"/>
</g>
<g fill="#ffff00">
<rect x="542.1" y="1359.6" width="16.6" height="11.5"/>
</g>
<g fill="#ff0000">
<rect x="557.2" y="1106.0" width="16.6" height="11.5"/>
</g>
<g fill="#990000">
<rect x="557.2" y="1117.5" width="16.6" height="127.3"/>
</g>
<g fill="#000000">
<rect x="557.2" y="1244.7" width="16.6" height="60.1"/>
</g>
<g fill="#ff0000">
<rect x="572.4" y="1106.0" width="16.6" height="6.2"/>
</g>
<g fill="#990000">
<rect x="572.4" y="1112.2" width="16.6" height="9.7"/>
</g>
<g fill="#ff0000">
<rect x="572.4" y="1121.9" width="16.6" height="16.8"/>
</g>
<g fill="#990000">
<rect x="572.4" y="1138.7" width="16.6" height="104.3"/>
</g>
<g fill="#000000">
<rect x="572.4" y="1243.0" width="16.6" height="62.7"/>
<rect x="572.4" y="1310.1" width="16.6" height="15.9"/>
</g>
<g fill="#ff0000">
<rect x="587.5" y="1106.0" width="16.6" height="13.3"/>
</g>
<g fill="#990000">
<rect x="587.5" y="1119.3" width="16.6" height="123.7"/>
</g>
<g fill="#000000">
<rect x="587.5" y="1243.0" width="16.6" height="69.8"/>
</g>
<g fill="#ff0000">
<rect x="602.7" y="1106.0" width="16.6" height="3.5"/>
</g>
<g fill="#990000">
<rect x="602.7" y="1109.5" width="16.6" height="137.9"/>
</g>
<g fill="#000000">
<rect x="602.7" y="1247.4" width="16.6" height="65.4"/>
</g>
<g fill="#ff0000">
<rect x="602.7" y="1334.9" width="16.6" height="15.9"/>
</g>
<g fill="#00ffff">
<rect x="602.7" y="1359.6" width="16.6" height="11.5"/>
</g>
<g fill="#ff0000">
<rect x="617.8" y="1106.0" width="16.6" height="7.1"/>
</g>
<g fill="#990000">
<rect x="617.8" y="1113.1" width="16.6" height="134.3"/>
</g>
<g fill="#000000">
<rect x="617.8" y="1247.4" width="16.6" height="65.4"/>
</g>
<g fill="#ff0000">
<rect x="633.0" y="1106.0" width="16.6" height="4.4"/>
</g>
<g fill="#990000">
<rect x="633.0" y="1110.4" width="16.6" height="130.8"/>
</g>
<g fill="#000000">
<rect x="633.0" y="1241.2" width="16.6" height="69.8"/>
</g>
<g fill="#ff0000">
<rect x="648.2" y="1106.0" width="16.6" height="9.7"/>
</g>
<g fill="#990000">
<rect x="648.2" y="1115.7" width="16.6" height="126.4"/>
</g>
<g fill="#000000">
<rect x="648.2" y="1242.1" width="16.6" height="65.4"/>
</g>
<g fill="#ff0000">
<rect x="663.3" y="1106.0" width="16.6" height="8.0"/>
</g>
<g fill="#990000">
<rect x="663.3" y="1114.0" width="16.6" height="131.7"/>
</g>
<g fill="#000000">
<rect x="663.3" y="1245.6" width="16.6" height="63.6"/>
</g>
<g fill="#ff0000">
<rect x="678.5" y="1106.0" width="16.6" height="29.2"/>
</g>
<g fill="#990000">
<rect x="678.5" y="1135.2" width="16.6" height="110.5"/>
</g>
<g fill="#000000">
<rect x="678.5" y="1245.6" width="16.6" height="59.2"/>
</g>
<g fill="#ff0000">
<rect x="693.6" y="1106.0" width="16.6" height="30.0"/>
</g>
<g fill="#990000">
<rect x="693.6" y="1136.0" width="16.6" height="1.8"/>
</g>
<g fill="#ff0000">
<rect x="693.6" y="1137.8" width="16.6" height="16.8"/>
</g>
<g fill="#990000">
<rect x="693.6" y="1154.6" width="16.6" height="91.0"/>
</g>
<g fill="#000000">
<rect x="693.6" y="1245.6" width="16.6" height="67.2"/>
</g>
<g fill="#ff0000">
<rect x="708.8" y="1106.0" width="16.6" height="23.0"/>
</g>
<g fill="#990000">
<rect x="708.8" y="1129.0" width="16.6" height="118.4"/>
</g>
<g fill="#000000">
<rect x="708.8" y="1247.4" width="16.6" height="65.4"/>
</g>
<g fill="#ff0000">
<rect x="723.9" y="1106.0" width="16.6" height="24.7"/>
</g>
<g fill="#990000">
<rect x="723.9" y="1130.7" width="16.6" height="110.5"/>
</g>
<g fill="#000000">
<rect x="723.9" y="1241.2" width="16.6" height="69.8"/>
</g>
<g fill="#ff0000">
<rect x="739.1" y="1106.0" width="16.6" height="15.0"/>
</g>
<g fill="#990000">
<rect x="739.1" y="1121.0" width="16.6" height="126.4"/>
</g>
<g fill="#000000">
<rect x="739.1" y="1247.4" width="16.6" height="46.8"/>
</g>
<g fill="#ffff00">
<rect x="739.1" y="1294.2" width="16.6" height="16.8"/>
</g>
<g fill="#ff0000">
<rect x="754.2" y="1106.0" width="16.6" height="3.5"/>
</g>
<g fill="#990000">
<rect x="754.2" y="1109.5" width="16.6" height="139.6"/>
</g>
<g fill="#000000">
<rect x="754.2" y="1249.2" width="16.6" height="63.6"/>
</g>
<g fill="#ff0000">
<rect x="769.4" y="1106.0" width="16.6" height="1.8"/>
</g>
<g fill="#990000">
<rect x="769.4" y="1107.8" width="16.6" height="141.4"/>
</g>
<g fill="#000000">
<rect x="769.4" y="1249.2" width="16.6" height="63.6"/>
</g>
<g fill="#ff0000">
<rect x="784.5" y="1106.0" width="16.6" height="1.8"/>
</g>
<g fill="#990000">
<rect x="784.5" y="1107.8" width="16.6" height="152.0"/>
</g>
<g fill="#000000">
<rect x="784.5" y="1259.8" width="16.6" height="47.7"/>
</g>
<g fill="#990000">
<rect x="799.7" y="1106.0" width="16.6" height="152.9"/>
</g>
<g fill="#000000">
<rect x="799.7" y="1258.9" width="16.6" height="53.9"/>
</g>
<g fill="#00ff00">
<rect x="814.9" y="632.2" width="16.6" height="42.4"/>
</g>
<g fill="#ffff00">
<rect x="814.9" y="674.7" width="16.6" height="57.4"/>
<rect x="814.9" y="740.9" width="16.6" height="20.3"/>
<rect x="814.9" y="785.1" width="16.6" height="23.0"/>
</g>
<g fill="#ff8000">
<rect x="814.9" y="816.9" width="16.6" height="15.4"/>
</g>
<g fill="#00ff00">
<rect x="830.0" y="626.9" width="16.6" height="17.7"/>
<rect x="830.0" y="647.3" width="16.6" height="38.0"/>
</g>
<g fill="#ffff00">
<rect x="830.0" y="685.3" width="16.6" height="70.7"/>
<rect x="830.0" y="759.5" width="16.6" height="30.0"/>
<rect x="830.0" y="796.6" width="16.6" height="35.7"/>
</g>
<g fill="#00ff00">
<rect x="845.2" y="646.4" width="16.6" height="23.0"/>
</g>
<g fill="#ffff00">
<rect x="845.2" y="684.4" width="16.6" height="25.6"/>
<rect x="845.2" y="748.9" width="16.6" height="15.9"/>
<rect x="845.2" y="789.5" width="16.6" height="23.0"/>
</g>
<g fill="#ff8000">
<rect x="845.2" y="824.9" width="16.6" height="7.4"/>
</g>
<g fill="#ffff00">
<rect x="860.3" y="692.3" width="16.6" height="120.2"/>
</g>
<g fill="#ffffff">
<rect x="860.3" y="730.3" width="16.6" height="2.7"/>
</g>
<g fill="#ffff00">
<rect x="860.3" y="817.8" width="16.6" height="14.5"/>
<rect x="875.5" y="723.3" width="16.6" height="109.1"/>
<rect x="890.6" y="699.4" width="16.6" height="35.3"/>
<rect x="890.6" y="743.6" width="16.6" height="88.7"/>
<rect x="905.8" y="735.6" width="16.6" height="15.9"/>
<rect x="905.8" y="756.8" width="16.6" height="75.5"/>
</g>
<g fill="#ff8000">
<rect x="905.8" y="816.9" width="16.6" height="2.7"/>
</g>
<g fill="#ffff00">
<rect x="920.9" y="704.7" width="16.6" height="37.1"/>
<rect x="920.9" y="763.9" width="16.6" height="27.4"/>
</g>
<g fill="#ff8000">
<rect x="920.9" y="803.7" width="16.6" height="28.6"/>
</g>
<g fill="#ffff00">
<rect x="936.1" y="757.7" width="16.6" height="24.7"/>
<rect x="936.1" y="794.8" width="16.6" height="17.7"/>
</g>
<g fill="#ff8000">
<rect x="936.1" y="826.7" width="16.6" height="5.7"/>
</g>
<g fill="#ffff00">
<rect x="951.2" y="774.5" width="16.6" height="18.6"/>
</g>
<g fill="#ff8000">
<rect x="951.2" y="824.9" width="16.6" height="7.4"/>
<rect x="966.4" y="806.3" width="16.6" height="26.0"/>
<rect x="981.5" y="825.8" width="16.6" height="6.5"/>
</g>
<g fill="#ffff00">
<rect x="996.7" y="787.8" width="16.6" height="15.9"/>
</g>
<g fill="#ff8000">
<rect x="996.7" y="809.9" width="16.6" height="22.4"/>
</g>
<g fill="#ffff00">
<rect x="1011.9" y="795.7" width="16.6" height="17.7"/>
</g>
<g fill="#ff8000">
<rect x="1011.9" y="813.4" width="16.6" height="18.9"/>
<rect x="1027.0" y="803.7" width="16.6" height="14.1"/>
</g>
<g fill="#ffff00">
<rect x="1027.0" y="817.8" width="16.6" height="14.5"/>
<rect x="814.9" y="832.0" width="16.6" height="3.5"/>
</g>
<g fill="#ff8000">
<rect x="814.9" y="835.5" width="16.6" height="14.1"/>
<rect x="814.9" y="858.5" width="16.6" height="26.5"/>
<rect x="814.9" y="892.1" width="16.6" height="41.5"/>
<rect x="814.9" y="939.8" width="16.6" height="15.9"/>
</g>
<g fill="#ff0000">
<rect x="814.9" y="955.7" width="16.6" height="106.0"/>
<rect x="814.9" y="1074.1" width="16.6" height="32.2"/>
</g>
<g fill="#ffff00">
<rect x="830.0" y="832.0" width="16.6" height="7.1"/>
</g>
<g fill="#ff8000">
<rect x="830.0" y="839.1" width="16.6" height="3.5"/>
<rect x="830.0" y="848.8" width="16.6" height="17.7"/>
<rect x="830.0" y="869.1" width="16.6" height="85.7"/>
</g>
<g fill="#ff0000">
<rect x="830.0" y="954.8" width="16.6" height="95.4"/>
<rect x="830.0" y="1060.0" width="16.6" height="19.4"/>
<rect x="830.0" y="1082.1" width="16.6" height="24.2"/>
</g>
<g fill="#ffffff">
<rect x="830.0" y="970.7" width="16.6" height="2.1"/>
<rect x="830.0" y="1016.7" width="16.6" height="2.1"/>
</g>
<g fill="#ff8000">
<rect x="845.2" y="832.0" width="16.6" height="10.6"/>
<rect x="845.2" y="848.8" width="16.6" height="39.8"/>
<rect x="845.2" y="931.0" width="16.6" height="30.9"/>
</g>
<g fill="#ff0000">
<rect x="845.2" y="966.3" width="16.6" height="102.5"/>
<rect x="845.2" y="1098.9" width="16.6" height="7.4"/>
</g>
<g fill="#ffff00">
<rect x="860.3" y="832.0" width="16.6" height="3.5"/>
</g>
<g fill="#ff8000">
<rect x="860.3" y="835.5" width="16.6" height="27.4"/>
<rect x="860.3" y="866.5" width="16.6" height="87.5"/>
</g>
<g fill="#ff0000">
<rect x="860.3" y="965.4" width="16.6" height="17.7"/>
<rect x="860.3" y="1009.6" width="16.6" height="40.7"/>
<rect x="860.3" y="1057.3" width="16.6" height="16.8"/>
<rect x="860.3" y="1083.0" width="16.6" height="23.3"/>
</g>
<g fill="#ff8000">
<rect x="875.5" y="832.0" width="16.6" height="13.3"/>
<rect x="875.5" y="852.3" width="16.6" height="41.5"/>
<rect x="875.5" y="906.2" width="16.6" height="17.7"/>
<rect x="875.5" y="931.0" width="16.6" height="42.4"/>
</g>
<g fill="#ff0000">
<rect x="875.5" y="973.4" width="16.6" height="46.0"/>
<rect x="875.5" y="1022.0" width="16.6" height="36.2"/>
<rect x="875.5" y="1070.6" width="16.6" height="35.7"/>
</g>
<g fill="#ffffff">
<rect x="875.5" y="986.1" width="16.6" height="2.8"/>
</g>
<g fill="#ffff00">
<rect x="890.6" y="832.0" width="16.6" height="8.0"/>
</g>
<g fill="#ff8000">
<rect x="890.6" y="840.0" width="16.6" height="15.0"/>
<rect x="890.6" y="883.3" width="16.6" height="35.3"/>
<rect x="890.6" y="922.1" width="16.6" height="17.7"/>
<rect x="890.6" y="961.0" width="16.6" height="15.9"/>
</g>
<g fill="#ff0000">
<rect x="890.6" y="980.5" width="16.6" height="27.4"/>
<rect x="890.6" y="1010.5" width="16.6" height="95.8"/>
</g>
<g fill="#ffff00">
<rect x="905.8" y="832.0" width="16.6" height="8.0"/>
</g>
<g fill="#ff8000">
<rect x="905.8" y="840.0" width="16.6" height="44.2"/>
<rect x="905.8" y="913.3" width="16.6" height="31.8"/>
</g>
<g fill="#ff0000">
<rect x="905.8" y="945.1" width="16.6" height="4.4"/>
</g>
<g fill="#ff8000">
<rect x="905.8" y="949.5" width="16.6" height="22.1"/>
</g>
<g fill="#ff0000">
<rect x="905.8" y="982.2" width="16.6" height="44.2"/>
<rect x="905.8" y="1042.3" width="16.6" height="17.7"/>
</g>
<g fill="#990000">
<rect x="905.8" y="1060.0" width="16.6" height="2.1"/>
</g>
<g fill="#ff0000">
<rect x="905.8" y="1062.1" width="16.6" height="44.2"/>
</g>
<g fill="#ff8000">
<rect x="920.9" y="879.7" width="16.6" height="30.0"/>
<rect x="920.9" y="931.0" width="16.6" height="19.4"/>
</g>
<g fill="#ff0000">
<rect x="920.9" y="950.4" width="16.6" height="24.7"/>
<rect x="920.9" y="987.5" width="16.6" height="18.6"/>
<rect x="920.9" y="1009.6" width="16.6" height="16.8"/>
<rect x="920.9" y="1035.3" width="16.6" height="18.6"/>
<rect x="920.9" y="1059.1" width="16.6" height="41.5"/>
</g>
<g fill="#990000">
<rect x="920.9" y="1100.7" width="16.6" height="5.7"/>
</g>
<g fill="#ff8000">
<rect x="936.1" y="832.0" width="16.6" height="11.5"/>
<rect x="936.1" y="847.0" width="16.6" height="30.0"/>
<rect x="936.1" y="885.0" width="16.6" height="14.1"/>
<rect x="936.1" y="931.0" width="16.6" height="19.4"/>
</g>
<g fill="#ff0000">
<rect x="936.1" y="963.7" width="16.6" height="27.4"/>
<rect x="936.1" y="994.6" width="16.6" height="27.4"/>
<rect x="936.1" y="1026.4" width="16.6" height="16.8"/>
<rect x="936.1" y="1048.5" width="16.6" height="16.8"/>
<rect x="936.1" y="1093.6" width="16.6" height="7.1"/>
</g>
<g fill="#990000">
<rect x="936.1" y="1100.7" width="16.6" height="5.7"/>
</g>
<g fill="#ff8000">
<rect x="951.2" y="832.0" width="16.6" height="53.0"/>
<rect x="951.2" y="925.7" width="16.6" height="44.2"/>
</g>
<g fill="#ff0000">
<rect x="951.2" y="980.5" width="16.6" height="51.3"/>
<rect x="951.2" y="1037.9" width="16.6" height="16.8"/>
<rect x="951.2" y="1065.3" width="16.6" height="41.0"/>
</g>
<g fill="#ff8000">
<rect x="966.4" y="855.0" width="16.6" height="19.4"/>
<rect x="966.4" y="877.1" width="16.6" height="41.5"/>
<rect x="966.4" y="921.3" width="16.6" height="18.6"/>
<rect x="966.4" y="942.5" width="16.6" height="20.3"/>
</g>
<g fill="#ff0000">
<rect x="966.4" y="962.8" width="16.6" height="56.6"/>
<rect x="966.4" y="1022.0" width="16.6" height="23.9"/>
<rect x="966.4" y="1048.5" width="16.6" height="19.4"/>
<rect x="966.4" y="1073.3" width="16.6" height="16.8"/>
<rect x="966.4" y="1092.7" width="16.6" height="13.6"/>
</g>
<g fill="#ff8000">
<rect x="981.5" y="832.0" width="16.6" height="64.5"/>
<rect x="981.5" y="906.2" width="16.6" height="16.8"/>
<rect x="981.5" y="925.7" width="16.6" height="30.0"/>
</g>
<g fill="#ff0000">
<rect x="981.5" y="971.6" width="16.6" height="18.6"/>
<rect x="981.5" y="999.9" width="16.6" height="68.0"/>
<rect x="981.5" y="1073.3" width="16.6" height="15.0"/>
</g>
<g fill="#990000">
<rect x="981.5" y="1088.3" width="16.6" height="18.0"/>
</g>
<g fill="#ff8000">
<rect x="996.7" y="849.7" width="16.6" height="46.8"/>
<rect x="996.7" y="901.8" width="16.6" height="16.8"/>
<rect x="996.7" y="938.0" width="16.6" height="35.3"/>
</g>
<g fill="#ff0000">
<rect x="996.7" y="1005.2" width="16.6" height="50.4"/>
</g>
<g fill="#990000">
<rect x="996.7" y="1079.4" width="16.6" height="8.8"/>
</g>
<g fill="#ff0000">
<rect x="996.7" y="1088.3" width="16.6" height="18.0"/>
</g>
<g fill="#ff8000">
<rect x="1011.9" y="849.7" width="16.6" height="16.8"/>
<rect x="1011.9" y="882.4" width="16.6" height="46.0"/>
<rect x="1011.9" y="962.8" width="16.6" height="17.7"/>
</g>
<g fill="#ff0000">
<rect x="1011.9" y="980.5" width="16.6" height="58.3"/>
<rect x="1011.9" y="1051.2" width="16.6" height="16.8"/>
<rect x="1011.9" y="1076.8" width="16.6" height="29.5"/>
</g>
<g fill="#ff8000">
<rect x="1027.0" y="832.0" width="16.6" height="7.1"/>
</g>
<g fill="#ff0000">
<rect x="1027.0" y="955.7" width="16.6" height="15.9"/>
<rect x="1027.0" y="1023.8" width="16.6" height="15.0"/>
<rect x="1027.0" y="1051.2" width="16.6" height="31.8"/>
<rect x="1027.0" y="1100.7" width="16.6" height="5.7"/>
</g>
<g fill="#ff8000">
<rect x="1042.2" y="849.7" width="16.6" height="19.4"/>
<rect x="1042.2" y="899.2" width="16.6" height="15.9"/>
<rect x="1042.2" y="923.9" width="16.6" height="17.7"/>
</g>
<g fill="#ff0000">
<rect x="1042.2" y="980.5" width="16.6" height="21.2"/>
<rect x="1042.2" y="1006.1" width="16.6" height="57.4"/>
<rect x="1042.2" y="1077.7" width="16.6" height="28.6"/>
</g>
<g fill="#ff8000">
<rect x="1057.3" y="855.0" width="16.6" height="15.9"/>
<rect x="1057.3" y="927.4" width="16.6" height="21.2"/>
</g>
<g fill="#ff0000">
<rect x="1057.3" y="980.5" width="16.6" height="28.3"/>
<rect x="1057.3" y="1028.2" width="16.6" height="17.7"/>
<rect x="1057.3" y="1050.3" width="16.6" height="56.0"/>
</g>
<g fill="#ff8000">
<rect x="1072.5" y="880.6" width="16.6" height="29.2"/>
<rect x="1072.5" y="928.3" width="16.6" height="25.6"/>
</g>
<g fill="#ff0000">
<rect x="1072.5" y="966.3" width="16.6" height="19.4"/>
<rect x="1072.5" y="989.3" width="16.6" height="15.9"/>
<rect x="1072.5" y="1008.7" width="16.6" height="15.0"/>
<rect x="1072.5" y="1037.0" width="16.6" height="16.8"/>
<rect x="1072.5" y="1057.3" width="16.6" height="32.7"/>
<rect x="1072.5" y="1097.1" width="16.6" height="9.2"/>
<rect x="1087.6" y="955.7" width="16.6" height="23.0"/>
<rect x="1087.6" y="1035.3" width="16.6" height="15.9"/>
<rect x="1087.6" y="1060.0" width="16.6" height="46.3"/>
</g>
<g fill="#ff8000">
<rect x="1102.8" y="901.8" width="16.6" height="26.5"/>
<rect x="1102.8" y="947.8" width="16.6" height="20.3"/>
</g>
<g fill="#ff0000">
<rect x="1102.8" y="968.1" width="16.6" height="17.7"/>
<rect x="1102.8" y="993.7" width="16.6" height="18.6"/>
<rect x="1102.8" y="1044.1" width="16.6" height="34.5"/>
</g>
<g fill="#ff8000">
<rect x="1117.9" y="931.9" width="16.6" height="22.1"/>
</g>
<g fill="#ff0000">
<rect x="1117.9" y="966.3" width="16.6" height="46.0"/>
<rect x="1117.9" y="1015.8" width="16.6" height="15.9"/>
<rect x="1117.9" y="1035.3" width="16.6" height="16.8"/>
<rect x="1117.9" y="1061.8" width="16.6" height="28.3"/>
<rect x="1117.9" y="1097.1" width="16.6" height="9.2"/>
</g>
<g fill="#ff8000">
<rect x="1133.1" y="901.8" width="16.6" height="15.0"/>
</g>
<g fill="#ff0000">
<rect x="1133.1" y="966.3" width="16.6" height="49.5"/>
<rect x="1133.1" y="1019.3" width="16.6" height="29.2"/>
<rect x="1133.1" y="1075.0" width="16.6" height="31.3"/>
</g>
<g fill="#ff8000">
<rect x="1148.2" y="888.6" width="16.6" height="15.9"/>
<rect x="1148.2" y="926.6" width="16.6" height="43.3"/>
</g>
<g fill="#ff0000">
<rect x="1148.2" y="969.9" width="16.6" height="15.9"/>
<rect x="1148.2" y="989.3" width="16.6" height="28.3"/>
<rect x="1148.2" y="1039.7" width="16.6" height="66.6"/>
</g>
<g fill="#ff8000">
<rect x="1163.4" y="936.3" width="16.6" height="12.4"/>
<rect x="1163.4" y="951.3" width="16.6" height="15.0"/>
<rect x="1163.4" y="971.6" width="16.6" height="15.9"/>
</g>
<g fill="#ff0000">
<rect x="1163.4" y="987.5" width="16.6" height="9.7"/>
<rect x="1163.4" y="1039.7" width="16.6" height="24.7"/>
<rect x="1163.4" y="1068.0" width="16.6" height="22.1"/>
<rect x="1163.4" y="1097.1" width="16.6" height="9.2"/>
</g>
<g fill="#ff8000">
<rect x="1178.5" y="936.3" width="16.6" height="28.3"/>
</g>
<g fill="#ff0000">
<rect x="1178.5" y="973.4" width="16.6" height="50.4"/>
<rect x="1178.5" y="1056.5" width="16.6" height="19.4"/>
<rect x="1178.5" y="1091.8" width="16.6" height="14.5"/>
</g>
<g fill="#990000">
<rect x="814.9" y="1114.0" width="16.6" height="151.1"/>
</g>
<g fill="#000000">
<rect x="814.9" y="1265.1" width="16.6" height="42.4"/>
</g>
<g fill="#ff0000">
<rect x="830.0" y="1106.0" width="16.6" height="10.6"/>
</g>
<g fill="#990000">
<rect x="830.0" y="1116.6" width="16.6" height="147.6"/>
</g>
<g fill="#000000">
<rect x="830.0" y="1264.2" width="16.6" height="48.6"/>
</g>
<g fill="#ff0000">
<rect x="845.2" y="1106.0" width="16.6" height="10.6"/>
</g>
<g fill="#990000">
<rect x="845.2" y="1116.6" width="16.6" height="130.8"/>
</g>
<g fill="#000000">
<rect x="845.2" y="1247.4" width="16.6" height="12.4"/>
</g>
<g fill="#990000">
<rect x="845.2" y="1259.8" width="16.6" height="18.6"/>
</g>
<g fill="#000000">
<rect x="845.2" y="1278.3" width="16.6" height="36.2"/>
</g>
<g fill="#990000">
<rect x="860.3" y="1106.0" width="16.6" height="5.3"/>
<rect x="860.3" y="1119.3" width="16.6" height="145.8"/>
</g>
<g fill="#000000">
<rect x="860.3" y="1265.1" width="16.6" height="46.0"/>
</g>
<g fill="#990000">
<rect x="875.5" y="1106.0" width="16.6" height="11.5"/>
<rect x="875.5" y="1125.4" width="16.6" height="2.7"/>
</g>
<g fill="#ff0000">
<rect x="875.5" y="1128.1" width="16.6" height="15.9"/>
</g>
<g fill="#990000">
<rect x="875.5" y="1144.0" width="16.6" height="23.0"/>
<rect x="875.5" y="1176.7" width="16.6" height="15.9"/>
<rect x="875.5" y="1195.3" width="16.6" height="69.8"/>
</g>
<g fill="#000000">
<rect x="875.5" y="1265.1" width="16.6" height="48.6"/>
</g>
<g fill="#990000">
<rect x="890.6" y="1106.0" width="16.6" height="49.5"/>
<rect x="890.6" y="1162.6" width="16.6" height="101.6"/>
</g>
<g fill="#000000">
<rect x="890.6" y="1264.2" width="16.6" height="50.4"/>
</g>
<g fill="#ff0000">
<rect x="905.8" y="1106.0" width="16.6" height="26.5"/>
</g>
<g fill="#990000">
<rect x="905.8" y="1132.5" width="16.6" height="24.7"/>
<rect x="905.8" y="1170.5" width="16.6" height="96.3"/>
</g>
<g fill="#000000">
<rect x="905.8" y="1266.8" width="16.6" height="46.8"/>
</g>
<g fill="#990000">
<rect x="920.9" y="1106.0" width="16.6" height="24.7"/>
</g>
<g fill="#ffffff">
<rect x="920.9" y="1111.3" width="16.6" height="2.7"/>
</g>
<g fill="#990000">
<rect x="920.9" y="1175.8" width="16.6" height="66.3"/>
</g>
<g fill="#000000">
<rect x="920.9" y="1242.1" width="16.6" height="71.6"/>
</g>
<g fill="#990000">
<rect x="936.1" y="1106.0" width="16.6" height="11.5"/>
<rect x="936.1" y="1129.9" width="16.6" height="49.5"/>
<rect x="936.1" y="1184.7" width="16.6" height="16.8"/>
</g>
<g fill="#000000">
<rect x="936.1" y="1201.4" width="16.6" height="2.1"/>
</g>
<g fill="#990000">
<rect x="936.1" y="1203.6" width="16.6" height="59.7"/>
</g>
<g fill="#000000">
<rect x="936.1" y="1263.3" width="16.6" height="46.0"/>
</g>
<g fill="#990000">
<rect x="951.2" y="1106.0" width="16.6" height="32.7"/>
<rect x="951.2" y="1144.0" width="16.6" height="57.4"/>
<rect x="951.2" y="1204.1" width="16.6" height="15.9"/>
<rect x="951.2" y="1226.2" width="16.6" height="17.7"/>
</g>
<g fill="#000000">
<rect x="951.2" y="1243.9" width="16.6" height="61.9"/>
</g>
<g fill="#ff0000">
<rect x="966.4" y="1106.0" width="16.6" height="3.5"/>
</g>
<g fill="#990000">
<rect x="966.4" y="1123.7" width="16.6" height="31.8"/>
<rect x="966.4" y="1159.9" width="16.6" height="16.8"/>
<rect x="966.4" y="1179.3" width="16.6" height="55.7"/>
</g>
<g fill="#000000">
<rect x="966.4" y="1235.0" width="16.6" height="10.6"/>
</g>
<g fill="#990000">
<rect x="966.4" y="1245.6" width="16.6" height="17.7"/>
</g>
<g fill="#000000">
<rect x="966.4" y="1263.3" width="16.6" height="49.5"/>
</g>
<g fill="#990000">
<rect x="981.5" y="1119.3" width="16.6" height="30.9"/>
<rect x="981.5" y="1192.6" width="16.6" height="49.5"/>
</g>
<g fill="#000000">
<rect x="981.5" y="1242.1" width="16.6" height="2.7"/>
</g>
<g fill="#990000">
<rect x="981.5" y="1244.7" width="16.6" height="16.8"/>
</g>
<g fill="#000000">
<rect x="981.5" y="1261.5" width="16.6" height="50.4"/>
</g>
<g fill="#990000">
<rect x="996.7" y="1113.1" width="16.6" height="53.0"/>
<rect x="996.7" y="1182.9" width="16.6" height="78.7"/>
</g>
<g fill="#000000">
<rect x="996.7" y="1261.5" width="16.6" height="44.2"/>
</g>
<g fill="#990000">
<rect x="1011.9" y="1108.7" width="16.6" height="38.9"/>
<rect x="1011.9" y="1154.6" width="16.6" height="39.8"/>
<rect x="1011.9" y="1206.7" width="16.6" height="26.5"/>
</g>
<g fill="#000000">
<rect x="1011.9" y="1233.3" width="16.6" height="12.4"/>
</g>
<g fill="#990000">
<rect x="1011.9" y="1245.6" width="16.6" height="15.9"/>
</g>
<g fill="#000000">
<rect x="1011.9" y="1261.5" width="16.6" height="51.3"/>
</g>
<g fill="#990000">
<rect x="1027.0" y="1106.0" width="16.6" height="49.5"/>
<rect x="1027.0" y="1158.1" width="16.6" height="15.9"/>
<rect x="1027.0" y="1183.8" width="16.6" height="65.4"/>
</g>
<g fill="#000000">
<rect x="1027.0" y="1249.2" width="16.6" height="74.2"/>
</g>
<g fill="#990000">
<rect x="1042.2" y="1106.0" width="16.6" height="27.4"/>
<rect x="1042.2" y="1150.2" width="16.6" height="16.8"/>
<rect x="1042.2" y="1194.4" width="16.6" height="49.5"/>
</g>
<g fill="#000000">
<rect x="1042.2" y="1243.9" width="16.6" height="73.3"/>
</g>
<g fill="#990000">
<rect x="1057.3" y="1106.0" width="16.6" height="5.3"/>
<rect x="1057.3" y="1130.7" width="16.6" height="92.8"/>
</g>
<g fill="#000000">
<rect x="1057.3" y="1234.1" width="16.6" height="11.5"/>
</g>
<g fill="#990000">
<rect x="1057.3" y="1245.6" width="16.6" height="12.4"/>
</g>
<g fill="#000000">
<rect x="1057.3" y="1258.0" width="16.6" height="59.2"/>
</g>
<g fill="#ff0000">
<rect x="1072.5" y="1106.0" width="16.6" height="7.1"/>
</g>
<g fill="#990000">
<rect x="1072.5" y="1157.3" width="16.6" height="24.7"/>
<rect x="1072.5" y="1184.7" width="16.6" height="30.0"/>
<rect x="1072.5" y="1217.3" width="16.6" height="31.8"/>
</g>
<g fill="#000000">
<rect x="1072.5" y="1249.2" width="16.6" height="67.2"/>
</g>
<g fill="#990000">
<rect x="1087.6" y="1106.0" width="16.6" height="10.6"/>
<rect x="1087.6" y="1132.5" width="16.6" height="44.2"/>
<rect x="1087.6" y="1179.3" width="16.6" height="64.5"/>
</g>
<g fill="#000000">
<rect x="1087.6" y="1243.9" width="16.6" height="73.3"/>
</g>
<g fill="#990000">
<rect x="1102.8" y="1132.5" width="16.6" height="16.8"/>
<rect x="1102.8" y="1152.0" width="16.6" height="16.8"/>
<rect x="1102.8" y="1182.9" width="16.6" height="15.9"/>
<rect x="1102.8" y="1216.5" width="16.6" height="29.2"/>
</g>
<g fill="#000000">
<rect x="1102.8" y="1245.6" width="16.6" height="71.6"/>
</g>
<g fill="#990000">
<rect x="1117.9" y="1106.0" width="16.6" height="7.1"/>
<rect x="1117.9" y="1123.7" width="16.6" height="29.2"/>
<rect x="1117.9" y="1170.5" width="16.6" height="17.7"/>
<rect x="1117.9" y="1191.7" width="16.6" height="24.7"/>
</g>
<g fill="#000000">
<rect x="1117.9" y="1234.1" width="16.6" height="83.1"/>
</g>
<g fill="#990000">
<rect x="1133.1" y="1106.0" width="16.6" height="10.6"/>
<rect x="1133.1" y="1119.3" width="16.6" height="19.4"/>
<rect x="1133.1" y="1149.3" width="16.6" height="16.8"/>
<rect x="1133.1" y="1194.4" width="16.6" height="16.8"/>
<rect x="1133.1" y="1214.7" width="16.6" height="16.8"/>
<rect x="1133.1" y="1251.8" width="16.6" height="16.8"/>
</g>
<g fill="#000000">
<rect x="1133.1" y="1268.6" width="16.6" height="48.6"/>
</g>
<g fill="#990000">
<rect x="1148.2" y="1127.2" width="16.6" height="28.3"/>
<rect x="1148.2" y="1166.1" width="16.6" height="15.9"/>
<rect x="1148.2" y="1203.2" width="16.6" height="28.3"/>
</g>
<g fill="#000000">
<rect x="1148.2" y="1249.2" width="16.6" height="61.9"/>
</g>
<g fill="#990000">
<rect x="1163.4" y="1106.0" width="16.6" height="15.9"/>
<rect x="1163.4" y="1127.2" width="16.6" height="16.8"/>
<rect x="1163.4" y="1176.7" width="16.6" height="15.9"/>
<rect x="1163.4" y="1199.7" width="16.6" height="18.6"/>
</g>
<g fill="#000000">
<rect x="1163.4" y="1234.1" width="16.6" height="23.9"/>
<rect x="1163.4" y="1263.3" width="16.6" height="53.9"/>
</g>
<g fill="#990000">
<rect x="1178.5" y="1114.8" width="16.6" height="42.4"/>
<rect x="1178.5" y="1160.8" width="16.6" height="46.0"/>
<rect x="1178.5" y="1212.0" width="16.6" height="15.9"/>
</g>
<g fill="#000000">
<rect x="1178.5" y="1256.2" width="16.6" height="61.0"/>
</g>
<g fill="#ff8000">
<rect x="1193.7" y="916.8" width="16.6" height="28.3"/>
</g>
<g fill="#ff0000">
<rect x="1193.7" y="1022.0" width="16.6" height="15.9"/>
<rect x="1193.7" y="1102.4" width="16.6" height="3.9"/>
</g>
<g fill="#ff8000">
<rect x="1208.9" y="901.8" width="16.6" height="15.9"/>
<rect x="1208.9" y="950.4" width="16.6" height="15.9"/>
</g>
<g fill="#ff0000">
<rect x="1208.9" y="1037.9" width="16.6" height="21.2"/>
<rect x="1208.9" y="1068.0" width="16.6" height="16.8"/>
</g>
<g fill="#990000">
<rect x="1208.9" y="1084.7" width="16.6" height="10.6"/>
</g>
<g fill="#ff0000">
<rect x="1208.9" y="1095.3" width="16.6" height="11.0"/>
<rect x="1224.0" y="964.6" width="16.6" height="15.9"/>
<rect x="1224.0" y="1002.6" width="16.6" height="15.9"/>
<rect x="1224.0" y="1100.7" width="16.6" height="5.7"/>
</g>
<g fill="#ff8000">
<rect x="1239.2" y="961.9" width="16.6" height="15.9"/>
</g>
<g fill="#ff0000">
<rect x="1239.2" y="977.8" width="16.6" height="5.3"/>
<rect x="1239.2" y="1016.7" width="16.6" height="17.7"/>
<rect x="1254.3" y="1005.2" width="16.6" height="15.9"/>
<rect x="1254.3" y="1034.4" width="16.6" height="22.1"/>
<rect x="1269.5" y="1007.9" width="16.6" height="15.9"/>
<rect x="1269.5" y="1068.0" width="16.6" height="15.9"/>
<rect x="1269.5" y="1092.7" width="16.6" height="13.6"/>
<rect x="1284.6" y="985.8" width="16.6" height="15.9"/>
<rect x="1284.6" y="1043.2" width="16.6" height="15.9"/>
<rect x="1299.8" y="1065.3" width="16.6" height="15.9"/>
<rect x="1314.9" y="1013.2" width="16.6" height="21.2"/>
<rect x="1314.9" y="1082.1" width="16.6" height="16.8"/>
<rect x="1330.1" y="1032.6" width="16.6" height="18.6"/>
<rect x="1330.1" y="1070.6" width="16.6" height="15.9"/>
<rect x="1330.1" y="1089.2" width="16.6" height="17.1"/>
<rect x="1345.2" y="1084.7" width="16.6" height="21.6"/>
<rect x="1360.4" y="1043.2" width="16.6" height="23.9"/>
</g>
<g fill="#990000">
<rect x="1360.4" y="1082.1" width="16.6" height="24.2"/>
</g>
<g fill="#ff0000">
<rect x="1375.5" y="1035.3" width="16.6" height="71.1"/>
<rect x="1390.7" y="1024.7" width="16.6" height="15.9"/>
<rect x="1390.7" y="1049.4" width="16.6" height="15.9"/>
<rect x="1390.7" y="1090.0" width="16.6" height="16.3"/>
<rect x="1405.9" y="983.1" width="16.6" height="15.9"/>
<rect x="1405.9" y="1041.4" width="16.6" height="18.6"/>
<rect x="1405.9" y="1070.6" width="16.6" height="28.3"/>
</g>
<g fill="#990000">
<rect x="1405.9" y="1100.7" width="16.6" height="5.7"/>
</g>
<g fill="#ff0000">
<rect x="1421.0" y="1054.7" width="16.6" height="15.0"/>
<rect x="1436.2" y="1024.7" width="16.6" height="15.9"/>
<rect x="1436.2" y="1063.5" width="16.6" height="42.8"/>
<rect x="1451.3" y="1049.4" width="16.6" height="15.0"/>
<rect x="1451.3" y="1070.6" width="16.6" height="35.7"/>
<rect x="1466.5" y="983.1" width="16.6" height="15.9"/>
<rect x="1466.5" y="1022.0" width="16.6" height="15.9"/>
<rect x="1481.6" y="1045.0" width="16.6" height="15.9"/>
<rect x="1481.6" y="1073.3" width="16.6" height="15.9"/>
<rect x="1511.9" y="1013.2" width="16.6" height="15.9"/>
</g>
<g fill="#990000">
<rect x="1511.9" y="1090.0" width="16.6" height="16.3"/>
</g>
<g fill="#ff0000">
<rect x="1527.1" y="1092.7" width="16.6" height="13.6"/>
<rect x="1542.2" y="1060.0" width="16.6" height="15.9"/>
</g>
<g fill="#990000">
<rect x="1542.2" y="1098.9" width="16.6" height="7.4"/>
</g>
<g fill="#ff0000">
<rect x="1193.7" y="1106.0" width="16.6" height="13.3"/>
</g>
<g fill="#990000">
<rect x="1193.7" y="1119.3" width="16.6" height="4.4"/>
<rect x="1193.7" y="1162.6" width="16.6" height="16.8"/>
<rect x="1193.7" y="1198.8" width="16.6" height="15.9"/>
</g>
<g fill="#000000">
<rect x="1193.7" y="1239.4" width="16.6" height="3.7"/>
</g>
<g fill="#ff0000">
<rect x="1208.9" y="1106.0" width="16.6" height="13.3"/>
</g>
<g fill="#ffffff">
<rect x="1210.3" y="1114.0" width="12.8" height="4.0"/>
</g>
<g fill="#990000">
<rect x="1208.9" y="1119.3" width="16.6" height="16.3"/>
<rect x="1208.9" y="1182.9" width="16.6" height="15.0"/>
<rect x="1208.9" y="1206.7" width="16.6" height="30.9"/>
</g>
<g fill="#ff0000">
<rect x="1224.0" y="1106.0" width="16.6" height="11.5"/>
</g>
<g fill="#990000">
<rect x="1224.0" y="1117.5" width="16.6" height="5.3"/>
<rect x="1224.0" y="1152.8" width="16.6" height="15.0"/>
<rect x="1224.0" y="1171.0" width="16.6" height="16.3"/>
<rect x="1224.0" y="1201.4" width="16.6" height="32.7"/>
<rect x="1239.2" y="1160.8" width="16.6" height="46.0"/>
<rect x="1239.2" y="1212.0" width="16.6" height="19.4"/>
</g>
<g fill="#000000">
<rect x="1239.2" y="1238.6" width="16.6" height="4.6"/>
</g>
<g fill="#990000">
<rect x="1254.3" y="1121.9" width="16.6" height="27.4"/>
<rect x="1254.3" y="1160.8" width="16.6" height="15.9"/>
<rect x="1254.3" y="1206.7" width="16.6" height="19.4"/>
</g>
<g fill="#000000">
<rect x="1254.3" y="1234.1" width="16.6" height="9.0"/>
</g>
<g fill="#990000">
<rect x="1269.5" y="1116.6" width="16.6" height="34.5"/>
<rect x="1269.5" y="1160.8" width="16.6" height="29.2"/>
<rect x="1269.5" y="1193.0" width="16.6" height="16.3"/>
<rect x="1269.5" y="1217.3" width="16.6" height="16.8"/>
<rect x="1284.6" y="1111.3" width="16.6" height="15.9"/>
<rect x="1284.6" y="1133.4" width="16.6" height="15.9"/>
<rect x="1284.6" y="1204.1" width="16.6" height="15.9"/>
<rect x="1284.6" y="1223.1" width="16.6" height="15.5"/>
</g>
<g fill="#000000">
<rect x="1284.6" y="1238.6" width="16.6" height="4.6"/>
</g>
<g fill="#990000">
<rect x="1299.8" y="1144.0" width="16.6" height="45.1"/>
<rect x="1299.8" y="1218.2" width="16.6" height="15.9"/>
</g>
<g fill="#000000">
<rect x="1299.8" y="1236.8" width="16.6" height="6.4"/>
</g>
<g fill="#990000">
<rect x="1314.9" y="1125.0" width="16.6" height="23.4"/>
<rect x="1314.9" y="1218.2" width="16.6" height="15.9"/>
</g>
<g fill="#000000">
<rect x="1314.9" y="1236.8" width="16.6" height="6.4"/>
</g>
<g fill="#990000">
<rect x="1330.1" y="1146.7" width="16.6" height="15.9"/>
<rect x="1330.1" y="1180.2" width="16.6" height="15.0"/>
<rect x="1345.2" y="1106.0" width="16.6" height="2.7"/>
<rect x="1345.2" y="1119.3" width="16.6" height="61.0"/>
<rect x="1345.2" y="1184.7" width="16.6" height="15.9"/>
<rect x="1345.2" y="1232.4" width="16.6" height="10.8"/>
<rect x="1360.4" y="1138.7" width="16.6" height="15.9"/>
<rect x="1360.4" y="1162.6" width="16.6" height="38.0"/>
<rect x="1360.4" y="1229.7" width="16.6" height="13.4"/>
</g>
<g fill="#ff0000">
<rect x="1375.5" y="1106.0" width="16.6" height="10.6"/>
</g>
<g fill="#990000">
<rect x="1375.5" y="1131.2" width="16.6" height="18.1"/>
<rect x="1375.5" y="1174.0" width="16.6" height="15.9"/>
</g>
<g fill="#000000">
<rect x="1375.5" y="1234.1" width="16.6" height="9.0"/>
</g>
<g fill="#ff0000">
<rect x="1390.7" y="1106.0" width="16.6" height="1.8"/>
</g>
<g fill="#990000">
<rect x="1390.7" y="1107.8" width="16.6" height="11.5"/>
<rect x="1390.7" y="1160.8" width="16.6" height="15.9"/>
<rect x="1390.7" y="1220.9" width="16.6" height="15.9"/>
<rect x="1405.9" y="1147.1" width="16.6" height="15.9"/>
<rect x="1405.9" y="1171.4" width="16.6" height="23.9"/>
</g>
<g fill="#000000">
<rect x="1405.9" y="1239.4" width="16.6" height="3.7"/>
</g>
<g fill="#990000">
<rect x="1421.0" y="1136.0" width="16.6" height="15.9"/>
<rect x="1421.0" y="1171.4" width="16.6" height="15.9"/>
<rect x="1421.0" y="1206.7" width="16.6" height="15.9"/>
</g>
<g fill="#ff0000">
<rect x="1436.2" y="1106.0" width="16.6" height="5.3"/>
</g>
<g fill="#990000">
<rect x="1436.2" y="1111.3" width="16.6" height="10.6"/>
<rect x="1436.2" y="1141.3" width="16.6" height="38.0"/>
<rect x="1436.2" y="1220.9" width="16.6" height="17.7"/>
</g>
<g fill="#000000">
<rect x="1436.2" y="1239.4" width="16.6" height="3.7"/>
</g>
<g fill="#990000">
<rect x="1451.3" y="1152.0" width="16.6" height="27.4"/>
<rect x="1451.3" y="1206.7" width="16.6" height="31.8"/>
<rect x="1466.5" y="1149.7" width="16.6" height="21.7"/>
<rect x="1466.5" y="1206.7" width="16.6" height="15.0"/>
</g>
<g fill="#000000">
<rect x="1466.5" y="1239.4" width="16.6" height="3.7"/>
</g>
<g fill="#990000">
<rect x="1481.6" y="1158.1" width="16.6" height="42.4"/>
<rect x="1481.6" y="1223.1" width="16.6" height="20.1"/>
<rect x="1496.8" y="1125.0" width="16.6" height="15.9"/>
<rect x="1496.8" y="1144.0" width="16.6" height="15.9"/>
<rect x="1496.8" y="1174.0" width="16.6" height="15.9"/>
<rect x="1496.8" y="1198.8" width="16.6" height="15.9"/>
<rect x="1511.9" y="1185.1" width="16.6" height="18.6"/>
<rect x="1542.2" y="1106.0" width="16.6" height="7.5"/>
<rect x="1542.2" y="1166.1" width="16.6" height="21.2"/>
<rect x="1542.2" y="1193.0" width="16.6" height="15.9"/>
<rect x="1557.4" y="1114.4" width="16.6" height="15.5"/>
<rect x="1557.4" y="1225.7" width="16.6" height="17.4"/>
</g>
<g fill="#000000">
<rect x="1193.7" y="1243.0" width="16.6" height="67.6"/>
<rect x="1208.9" y="1251.4" width="16.6" height="61.4"/>
<rect x="1224.0" y="1266.4" width="16.6" height="44.2"/>
<rect x="1239.2" y="1243.0" width="16.6" height="68.5"/>
<rect x="1254.3" y="1243.0" width="16.6" height="7.1"/>
<rect x="1254.3" y="1258.5" width="16.6" height="1.8"/>
<rect x="1254.3" y="1263.8" width="16.6" height="54.3"/>
<rect x="1269.5" y="1244.8" width="16.6" height="70.7"/>
<rect x="1284.6" y="1243.0" width="16.6" height="7.5"/>
<rect x="1284.6" y="1255.8" width="16.6" height="57.9"/>
<rect x="1299.8" y="1243.0" width="16.6" height="10.2"/>
<rect x="1299.8" y="1263.8" width="16.6" height="46.8"/>
<rect x="1314.9" y="1243.0" width="16.6" height="10.2"/>
<rect x="1314.9" y="1258.5" width="16.6" height="13.7"/>
</g>
<g fill="#990000">
<rect x="1314.9" y="1272.2" width="16.6" height="19.0"/>
</g>
<g fill="#000000">
<rect x="1314.9" y="1291.2" width="16.6" height="27.0"/>
<rect x="1330.1" y="1243.0" width="16.6" height="69.8"/>
</g>
<g fill="#990000">
<rect x="1345.2" y="1243.0" width="16.6" height="4.4"/>
</g>
<g fill="#000000">
<rect x="1345.2" y="1263.8" width="16.6" height="51.7"/>
</g>
<g fill="#990000">
<rect x="1360.4" y="1243.0" width="16.6" height="4.4"/>
</g>
<g fill="#000000">
<rect x="1360.4" y="1247.4" width="16.6" height="5.3"/>
<rect x="1360.4" y="1266.4" width="16.6" height="38.4"/>
<rect x="1375.5" y="1243.0" width="16.6" height="48.2"/>
<rect x="1375.5" y="1243.0" width="16.6" height="48.2"/>
<rect x="1390.7" y="1269.5" width="16.6" height="53.9"/>
<rect x="1405.9" y="1243.0" width="16.6" height="12.4"/>
<rect x="1405.9" y="1263.8" width="16.6" height="44.2"/>
<rect x="1421.0" y="1256.3" width="16.6" height="15.9"/>
<rect x="1421.0" y="1291.2" width="16.6" height="21.7"/>
<rect x="1436.2" y="1243.0" width="16.6" height="20.8"/>
<rect x="1436.2" y="1269.5" width="16.6" height="32.7"/>
<rect x="1451.3" y="1269.5" width="16.6" height="24.3"/>
<rect x="1451.3" y="1296.9" width="16.6" height="18.6"/>
<rect x="1466.5" y="1243.0" width="16.6" height="12.8"/>
<rect x="1466.5" y="1280.1" width="16.6" height="16.8"/>
</g>
<g fill="#990000">
<rect x="1481.6" y="1243.0" width="16.6" height="1.8"/>
</g>
<g fill="#000000">
<rect x="1481.6" y="1289.8" width="16.6" height="28.3"/>
<rect x="1496.8" y="1286.3" width="16.6" height="15.9"/>
<rect x="1511.9" y="1266.9" width="16.6" height="31.8"/>
<rect x="1511.9" y="1305.3" width="16.6" height="15.5"/>
<rect x="1527.1" y="1264.2" width="16.6" height="30.0"/>
<rect x="1542.2" y="1280.1" width="16.6" height="16.8"/>
<rect x="1542.2" y="1305.3" width="16.6" height="15.5"/>
<rect x="1557.4" y="1243.0" width="16.6" height="26.1"/>
<rect x="1557.4" y="1272.2" width="16.6" height="26.5"/>
</g>
<g fill="#990000">
<rect x="1572.5" y="1100.7" width="16.6" height="31.8"/>
<rect x="1572.5" y="1195.2" width="16.6" height="15.9"/>
</g>
<g fill="#000000">
<rect x="1572.5" y="1237.7" width="16.6" height="5.7"/>
</g>
<g fill="#ff0000">
<rect x="1587.7" y="1068.0" width="16.6" height="15.9"/>
</g>
<g fill="#990000">
<rect x="1587.7" y="1130.7" width="16.6" height="18.6"/>
<rect x="1587.7" y="1185.5" width="16.6" height="15.0"/>
</g>
<g fill="#000000">
<rect x="1587.7" y="1226.2" width="16.6" height="15.9"/>
</g>
<g fill="#990000">
<rect x="1602.9" y="1162.5" width="16.6" height="15.9"/>
<rect x="1602.9" y="1182.9" width="16.6" height="15.9"/>
<rect x="1618.0" y="1111.3" width="16.6" height="15.9"/>
<rect x="1618.0" y="1174.0" width="16.6" height="15.9"/>
<rect x="1618.0" y="1198.8" width="16.6" height="17.7"/>
<rect x="1633.2" y="1182.9" width="16.6" height="15.9"/>
<rect x="1633.2" y="1216.4" width="16.6" height="16.8"/>
</g>
<g fill="#000000">
<rect x="1633.2" y="1236.8" width="16.6" height="6.5"/>
</g>
<g fill="#990000">
<rect x="1648.3" y="1111.3" width="16.6" height="15.9"/>
<rect x="1648.3" y="1196.1" width="16.6" height="34.5"/>
<rect x="1663.5" y="1160.8" width="16.6" height="15.9"/>
<rect x="1663.5" y="1215.6" width="16.6" height="15.0"/>
</g>
<g fill="#000000">
<rect x="1663.5" y="1239.4" width="16.6" height="3.9"/>
</g>
<g fill="#990000">
<rect x="1678.6" y="1111.3" width="16.6" height="15.9"/>
<rect x="1678.6" y="1190.8" width="16.6" height="23.9"/>
<rect x="1693.8" y="1124.5" width="16.6" height="15.9"/>
<rect x="1708.9" y="1167.0" width="16.6" height="16.8"/>
<rect x="1708.9" y="1228.8" width="16.6" height="14.5"/>
</g>
<g fill="#ff0000">
<rect x="1724.1" y="1053.8" width="16.6" height="15.9"/>
</g>
<g fill="#990000">
<rect x="1724.1" y="1138.7" width="16.6" height="15.9"/>
<rect x="1724.1" y="1238.5" width="16.6" height="4.8"/>
<rect x="1739.2" y="1136.0" width="16.6" height="15.9"/>
<rect x="1754.4" y="1167.8" width="16.6" height="18.6"/>
<rect x="1754.4" y="1200.5" width="16.6" height="30.0"/>
</g>
<g fill="#000000">
<rect x="1754.4" y="1234.1" width="16.6" height="9.2"/>
</g>
<g fill="#990000">
<rect x="1769.6" y="1226.2" width="16.6" height="15.9"/>
<rect x="1799.9" y="1197.0" width="16.6" height="15.9"/>
<rect x="1815.0" y="1130.7" width="16.6" height="15.9"/>
<rect x="1815.0" y="1202.3" width="16.6" height="14.1"/>
<rect x="1815.0" y="1220.9" width="16.6" height="22.4"/>
<rect x="1830.2" y="1160.8" width="16.6" height="15.9"/>
<rect x="1830.2" y="1196.1" width="16.6" height="15.9"/>
</g>
<g fill="#000000">
<rect x="1830.2" y="1234.1" width="16.6" height="9.2"/>
</g>
<g fill="#990000">
<rect x="1845.3" y="1154.6" width="16.6" height="23.9"/>
<rect x="1845.3" y="1234.1" width="16.6" height="9.2"/>
<rect x="1875.6" y="1154.6" width="16.6" height="22.1"/>
<rect x="1875.6" y="1182.0" width="16.6" height="15.9"/>
<rect x="1875.6" y="1228.8" width="16.6" height="14.5"/>
</g>
<g fill="#ff0000">
<rect x="1890.8" y="1090.1" width="16.6" height="15.9"/>
</g>
<g fill="#990000">
<rect x="1890.8" y="1176.7" width="16.6" height="29.2"/>
<rect x="1905.9" y="1171.4" width="16.6" height="15.9"/>
<rect x="1905.9" y="1218.2" width="16.6" height="15.9"/>
<rect x="1921.1" y="1168.7" width="16.6" height="15.9"/>
<rect x="1936.2" y="1142.2" width="16.6" height="15.0"/>
<rect x="1936.2" y="1200.5" width="16.6" height="16.8"/>
<rect x="1936.2" y="1230.6" width="16.6" height="12.7"/>
</g>
<g fill="#000000">
<rect x="1572.5" y="1238.0" width="16.6" height="13.3"/>
<rect x="1572.5" y="1263.6" width="16.6" height="15.9"/>
<rect x="1587.7" y="1226.5" width="16.6" height="15.9"/>
<rect x="1587.7" y="1253.0" width="16.6" height="51.3"/>
<rect x="1602.9" y="1280.4" width="16.6" height="31.8"/>
</g>
<g fill="#990000">
<rect x="1618.0" y="1200.0" width="16.6" height="17.7"/>
</g>
<g fill="#000000">
<rect x="1618.0" y="1275.1" width="16.6" height="29.2"/>
</g>
<g fill="#990000">
<rect x="1633.2" y="1215.9" width="16.6" height="16.8"/>
</g>
<g fill="#000000">
<rect x="1633.2" y="1237.1" width="16.6" height="15.9"/>
<rect x="1633.2" y="1265.4" width="16.6" height="15.9"/>
</g>
<g fill="#990000">
<rect x="1648.3" y="1200.0" width="16.6" height="26.5"/>
</g>
<g fill="#000000">
<rect x="1648.3" y="1251.3" width="16.6" height="28.3"/>
<rect x="1648.3" y="1288.4" width="16.6" height="15.9"/>
</g>
<g fill="#990000">
<rect x="1663.5" y="1215.9" width="16.6" height="15.0"/>
</g>
<g fill="#000000">
<rect x="1663.5" y="1240.7" width="16.6" height="30.0"/>
<rect x="1663.5" y="1277.8" width="16.6" height="20.3"/>
</g>
<g fill="#990000">
<rect x="1678.6" y="1200.0" width="16.6" height="14.1"/>
</g>
<g fill="#000000">
<rect x="1678.6" y="1248.6" width="16.6" height="15.0"/>
<rect x="1678.6" y="1269.8" width="16.6" height="15.0"/>
<rect x="1693.8" y="1256.6" width="16.6" height="17.7"/>
<rect x="1693.8" y="1278.7" width="16.6" height="15.0"/>
</g>
<g fill="#990000">
<rect x="1708.9" y="1229.2" width="16.6" height="15.9"/>
</g>
<g fill="#000000">
<rect x="1708.9" y="1248.6" width="16.6" height="15.0"/>
<rect x="1708.9" y="1272.5" width="16.6" height="31.8"/>
</g>
<g fill="#990000">
<rect x="1724.1" y="1239.8" width="16.6" height="17.7"/>
</g>
<g fill="#000000">
<rect x="1724.1" y="1257.4" width="16.6" height="11.5"/>
<rect x="1724.1" y="1289.3" width="16.6" height="16.8"/>
<rect x="1739.2" y="1289.3" width="16.6" height="15.0"/>
</g>
<g fill="#990000">
<rect x="1754.4" y="1200.0" width="16.6" height="28.3"/>
</g>
<g fill="#000000">
<rect x="1754.4" y="1234.5" width="16.6" height="15.9"/>
<rect x="1754.4" y="1253.0" width="16.6" height="15.9"/>
</g>
<g fill="#990000">
<rect x="1769.6" y="1226.5" width="16.6" height="15.9"/>
<rect x="1769.6" y="1253.0" width="16.6" height="16.8"/>
</g>
<g fill="#000000">
<rect x="1769.6" y="1269.8" width="16.6" height="31.8"/>
<rect x="1784.7" y="1250.4" width="16.6" height="15.0"/>
<rect x="1784.7" y="1277.8" width="16.6" height="23.9"/>
<rect x="1799.9" y="1242.4" width="16.6" height="15.9"/>
<rect x="1799.9" y="1277.8" width="16.6" height="15.9"/>
</g>
<g fill="#990000">
<rect x="1815.0" y="1200.0" width="16.6" height="15.9"/>
<rect x="1815.0" y="1221.2" width="16.6" height="31.8"/>
</g>
<g fill="#000000">
<rect x="1815.0" y="1253.0" width="16.6" height="17.7"/>
<rect x="1830.2" y="1234.5" width="16.6" height="15.0"/>
<rect x="1830.2" y="1258.3" width="16.6" height="31.8"/>
<rect x="1830.2" y="1296.3" width="16.6" height="21.2"/>
</g>
<g fill="#990000">
<rect x="1845.3" y="1234.5" width="16.6" height="15.0"/>
</g>
<g fill="#000000">
<rect x="1845.3" y="1273.3" width="16.6" height="15.0"/>
<rect x="1845.3" y="1293.7" width="16.6" height="15.9"/>
<rect x="1860.5" y="1267.2" width="16.6" height="15.9"/>
<rect x="1860.5" y="1288.4" width="16.6" height="15.9"/>
</g>
<g fill="#990000">
<rect x="1875.6" y="1229.2" width="16.6" height="18.6"/>
</g>
<g fill="#000000">
<rect x="1875.6" y="1247.7" width="16.6" height="7.1"/>
<rect x="1875.6" y="1286.6" width="16.6" height="17.7"/>
</g>
<g fill="#990000">
<rect x="1890.8" y="1200.0" width="16.6" height="6.2"/>
<rect x="1905.9" y="1218.6" width="16.6" height="15.9"/>
<rect x="1936.2" y="1200.0" width="16.6" height="17.7"/>
<rect x="1936.2" y="1230.9" width="16.6" height="15.9"/>
</g>
<g fill="#000000">
<rect x="1936.2" y="1272.5" width="16.6" height="31.8"/>
</g>
<g fill="#990000">
<rect x="1951.4" y="1190.8" width="16.6" height="21.2"/>
</g>
<g fill="#000000">
<rect x="1951.4" y="1293.3" width="16.6" height="19.4"/>
</g>
<g fill="#990000">
<rect x="1966.6" y="1171.4" width="16.6" height="35.3"/>
</g>
<g fill="#000000">
<rect x="1966.6" y="1291.6" width="16.6" height="15.9"/>
</g>
<g fill="#990000">
<rect x="1981.7" y="1160.8" width="16.6" height="15.9"/>
<rect x="1981.7" y="1184.7" width="16.6" height="15.9"/>
</g>
<g fill="#000000">
<rect x="1981.7" y="1239.4" width="16.6" height="29.2"/>
<rect x="1981.7" y="1286.3" width="16.6" height="15.9"/>
</g>
<g fill="#990000">
<rect x="1996.9" y="1155.5" width="16.6" height="15.9"/>
<rect x="1996.9" y="1228.8" width="16.6" height="15.9"/>
<rect x="2012.0" y="1122.8" width="16.6" height="15.9"/>
<rect x="2012.0" y="1141.3" width="16.6" height="15.9"/>
</g>
<g fill="#000000">
<rect x="2012.0" y="1256.2" width="16.6" height="31.8"/>
<rect x="2012.0" y="1291.6" width="16.6" height="15.9"/>
<rect x="2027.2" y="1245.6" width="16.6" height="15.9"/>
</g>
<g fill="#990000">
<rect x="2042.3" y="1215.6" width="16.6" height="15.0"/>
</g>
<g fill="#000000">
<rect x="2042.3" y="1258.9" width="16.6" height="15.0"/>
<rect x="2042.3" y="1280.1" width="16.6" height="15.9"/>
</g>
<g fill="#990000">
<rect x="2057.5" y="1158.1" width="16.6" height="15.9"/>
</g>
<g fill="#000000">
<rect x="2057.5" y="1272.1" width="16.6" height="15.9"/>
<rect x="2072.6" y="1242.1" width="16.6" height="21.2"/>
</g>
<g fill="#990000">
<rect x="2087.8" y="1122.8" width="16.6" height="15.9"/>
</g>
<g fill="#000000">
<rect x="2087.8" y="1250.9" width="16.6" height="15.0"/>
<rect x="2087.8" y="1291.6" width="16.6" height="15.9"/>
<rect x="2102.9" y="1250.9" width="16.6" height="15.0"/>
<rect x="2102.9" y="1269.5" width="16.6" height="15.0"/>
</g>
</g></g>
<g id="ylabels" font-size="58" text-anchor="end" letter-spacing="2.8">
<text transform="translate(248.2 1383.6) scale(0.83 1)">0</text>
<text transform="translate(248.2 1276.0) scale(0.83 1)">1000</text>
<text transform="translate(248.2 1168.4) scale(0.83 1)">2000</text>
<text transform="translate(248.2 1060.8) scale(0.83 1)">3000</text>
<text transform="translate(248.2 953.2) scale(0.83 1)">4000</text>
<text transform="translate(248.2 845.6) scale(0.83 1)">5000</text>
<text transform="translate(248.2 738.0) scale(0.83 1)">6000</text>
<text transform="translate(248.2 630.4) scale(0.83 1)">7000</text>
<text transform="translate(248.2 522.8) scale(0.83 1)">8000</text>
<text transform="translate(248.2 415.2) scale(0.83 1)">9000</text>
<text transform="translate(248.2 307.6) scale(0.83 1)">10<tspan font-size="34" dx="-5" dy="6.5">,</tspan><tspan dx="-7.2" dy="-6.5">000</tspan></text>
<text transform="translate(248.2 200.0) scale(0.83 1)">11<tspan font-size="34" dx="-5" dy="6.5">,</tspan><tspan dx="-7.2" dy="-6.5">000</tspan></text>
<text transform="translate(248.2 92.4) scale(0.83 1)">12<tspan font-size="34" dx="-5" dy="6.5">,</tspan><tspan dx="-7.2" dy="-6.5">000</tspan></text>
</g>
<g id="xlabels" font-size="53" text-anchor="middle">
<text x="293.3" y="1454.6">0</text>
<text x="444.8" y="1454.6">1</text>
<text x="596.3" y="1454.6">2</text>
<text x="747.9" y="1454.6">3</text>
<text x="899.4" y="1454.6">4</text>
<text x="1050.9" y="1454.6">5</text>
<text x="1202.4" y="1454.6">6</text>
<text x="1353.9" y="1454.6">7</text>
<text x="1505.5" y="1454.6">8</text>
<text x="1657.0" y="1454.6">9</text>
<text x="1808.5" y="1454.6">10</text>
<text x="1960.0" y="1454.6">11</text>
<text x="2111.5" y="1454.6">12</text>
</g>
<text x="1842" y="1532.4" font-size="66.3">Airmass</text>
<text transform="translate(70.3 217.6) rotate(-90) scale(0.983 1)" font-size="68">P (W)</text>
<g id="legend">
<rect x="793.8" y="94" width="508.8" height="92.2" fill="#fff" stroke="#000" stroke-width="2.7"/>
<rect x="876.5" y="133.5" width="17" height="16.5" fill="#000"/>
<text x="977" y="164" font-size="66">AC Output</text>
</g>
<g id="colourscale">
<rect x="1531.3" y="84.5" width="392.4" height="784.3" fill="#000"/>
<rect x="1511.8" y="67.6" width="390" height="778.4" fill="#fff" stroke="#000" stroke-width="4.8"/>
<rect x="1542" y="96.5" width="172" height="66.0" fill="#000000"/>
<rect x="1542" y="162.0" width="172" height="66.0" fill="#990000"/>
<rect x="1542" y="227.5" width="172" height="66.0" fill="#ff0000"/>
<rect x="1542" y="293.0" width="172" height="66.0" fill="#ff8000"/>
<rect x="1542" y="358.5" width="172" height="66.0" fill="#ffff00"/>
<rect x="1542" y="424.0" width="172" height="66.0" fill="#00ff00"/>
<rect x="1542" y="489.5" width="172" height="66.0" fill="#00ff00"/>
<rect x="1542" y="555.0" width="172" height="66.0" fill="#00ffff"/>
<rect x="1542" y="620.5" width="172" height="66.0" fill="#0080ff"/>
<rect x="1542" y="686.0" width="172" height="66.0" fill="#0000ff"/>
<rect x="1542" y="751.5" width="172" height="66.0" fill="#c0c0c0"/>
<g font-size="34.6">
<text x="1727" y="174.0">100.0</text>
<text x="1727" y="239.5">200.0</text>
<text x="1727" y="305.0">300.0</text>
<text x="1727" y="370.5">400.0</text>
<text x="1727" y="436.0">500.0</text>
<text x="1727" y="501.5">600.0</text>
<text x="1727" y="567.0">700.0</text>
<text x="1727" y="632.5">800.0</text>
<text x="1727" y="698.0">1000</text>
<text x="1727" y="763.5">1150</text>
</g></g>
</svg></body></html>
